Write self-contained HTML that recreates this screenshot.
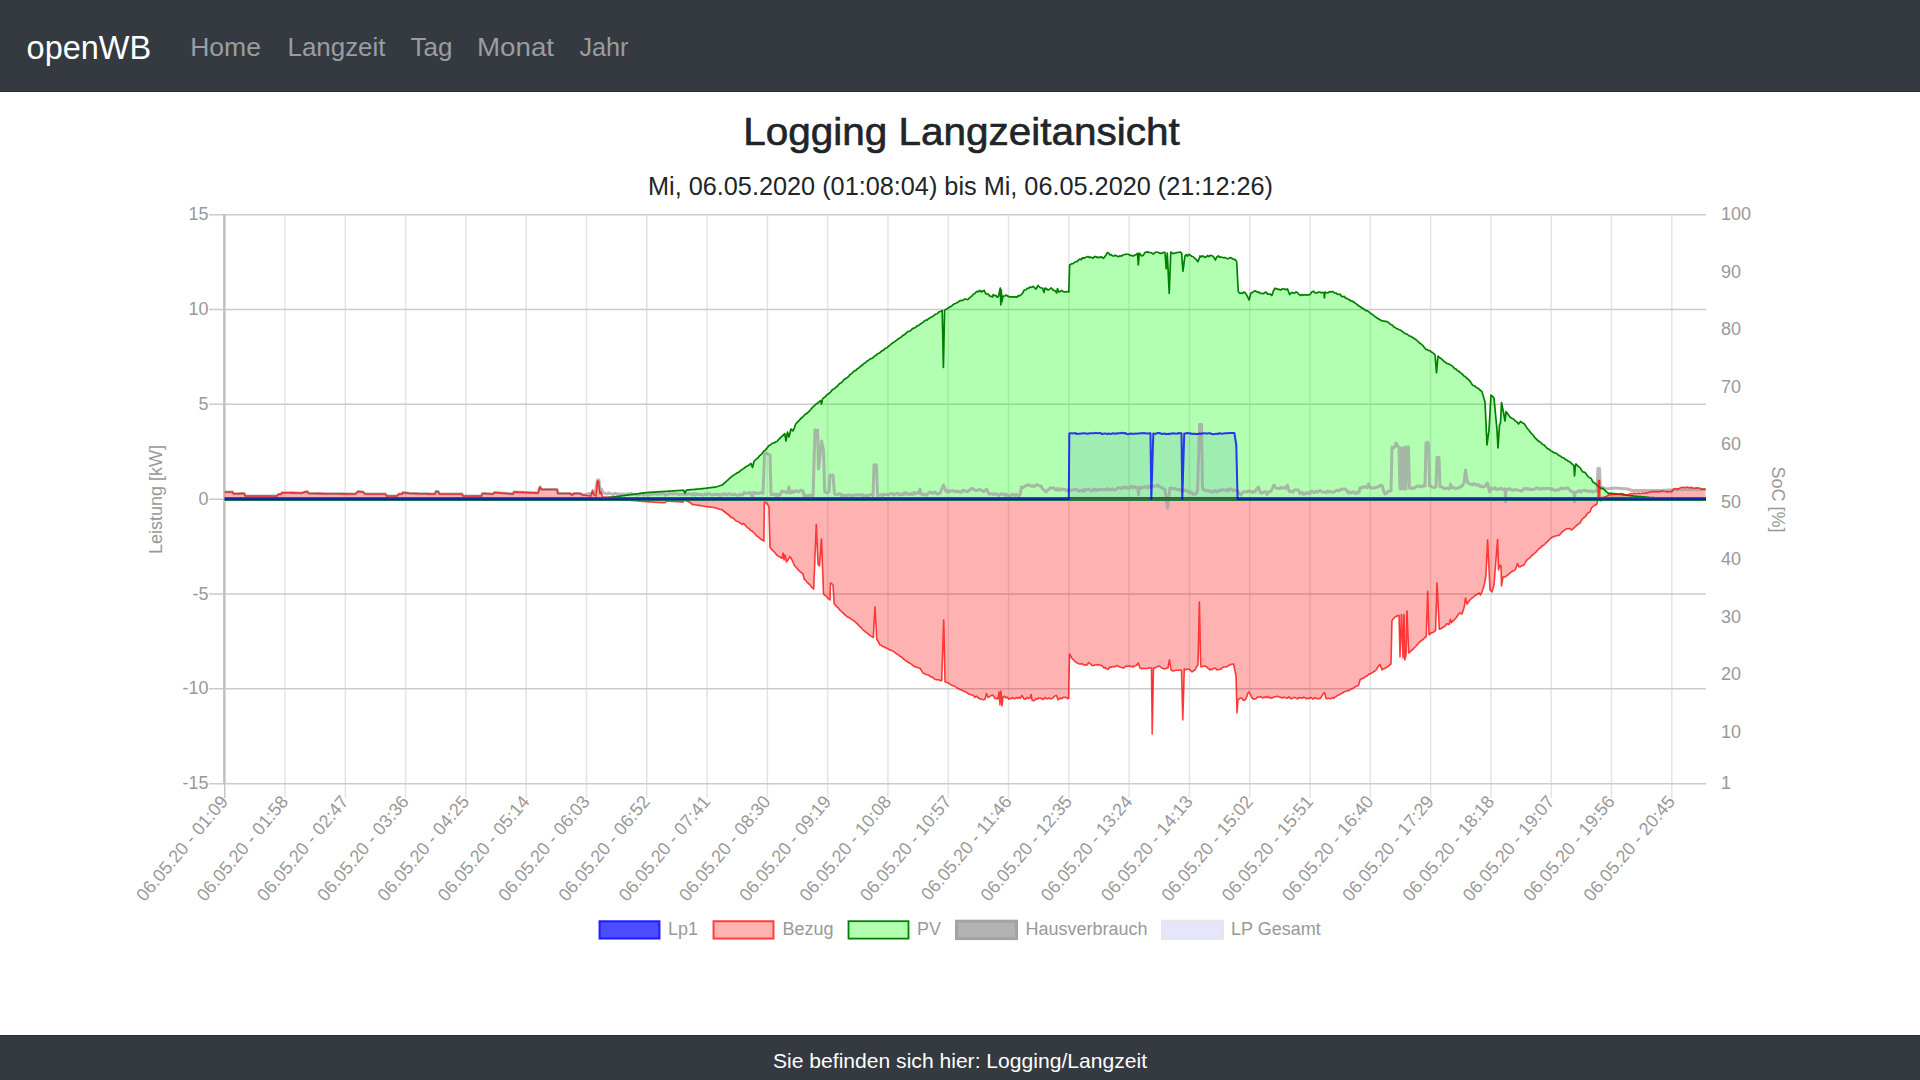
<!DOCTYPE html>
<html><head><meta charset="utf-8"><title>openWB Logging Langzeit</title>
<style>
html,body{margin:0;padding:0;background:#fff;width:1920px;height:1080px;overflow:hidden}
svg{display:block}
text{font-family:"Liberation Sans",sans-serif}
</style></head><body>
<svg width="1920" height="1080" viewBox="0 0 1920 1080">
<rect x="0" y="0" width="1920" height="1080" fill="#fff"/>
<!-- navbar -->
<rect x="0" y="0" width="1920" height="91" fill="#343a40"/>
<rect x="0" y="91" width="1920" height="1" fill="#2b2f35"/>
<text x="26.6" y="58.9" font-size="34" fill="#fff" textLength="124.5" lengthAdjust="spacingAndGlyphs">openWB</text>
<g font-size="25" fill="#9a9da0">
<text x="190.2" y="55.6" textLength="70.8" lengthAdjust="spacingAndGlyphs">Home</text>
<text x="287.5" y="55.6" textLength="98" lengthAdjust="spacingAndGlyphs">Langzeit</text>
<text x="410.5" y="55.6" textLength="42" lengthAdjust="spacingAndGlyphs">Tag</text>
<text x="477" y="55.6" textLength="77" lengthAdjust="spacingAndGlyphs">Monat</text>
<text x="579.5" y="55.6" textLength="49" lengthAdjust="spacingAndGlyphs">Jahr</text>
</g>
<!-- title -->
<text x="743.3" y="144.8" font-size="39" fill="#212529" stroke="#212529" stroke-width="0.65" textLength="436.5" lengthAdjust="spacingAndGlyphs">Logging Langzeitansicht</text>
<text x="648" y="195.2" font-size="25.5" fill="#212529" textLength="625" lengthAdjust="spacingAndGlyphs">Mi, 06.05.2020 (01:08:04) bis Mi, 06.05.2020 (21:12:26)</text>
<!-- footer -->
<rect x="0" y="1035" width="1920" height="45" fill="#343a40"/>
<rect x="0" y="1035" width="1920" height="1" fill="#2c3036"/>
<text x="773" y="1067.9" font-size="21" fill="#fff" textLength="374" lengthAdjust="spacingAndGlyphs">Sie befinden sich hier: Logging/Langzeit</text>

<g stroke="#e4e4e4" stroke-width="1.5">
<line x1="285" y1="214.7" x2="285" y2="798"/>
<line x1="345.29" y1="214.7" x2="345.29" y2="798"/>
<line x1="405.59" y1="214.7" x2="405.59" y2="798"/>
<line x1="465.88" y1="214.7" x2="465.88" y2="798"/>
<line x1="526.18" y1="214.7" x2="526.18" y2="798"/>
<line x1="586.48" y1="214.7" x2="586.48" y2="798"/>
<line x1="646.77" y1="214.7" x2="646.77" y2="798"/>
<line x1="707.07" y1="214.7" x2="707.07" y2="798"/>
<line x1="767.36" y1="214.7" x2="767.36" y2="798"/>
<line x1="827.66" y1="214.7" x2="827.66" y2="798"/>
<line x1="887.96" y1="214.7" x2="887.96" y2="798"/>
<line x1="948.25" y1="214.7" x2="948.25" y2="798"/>
<line x1="1008.55" y1="214.7" x2="1008.55" y2="798"/>
<line x1="1068.84" y1="214.7" x2="1068.84" y2="798"/>
<line x1="1129.14" y1="214.7" x2="1129.14" y2="798"/>
<line x1="1189.44" y1="214.7" x2="1189.44" y2="798"/>
<line x1="1249.73" y1="214.7" x2="1249.73" y2="798"/>
<line x1="1310.03" y1="214.7" x2="1310.03" y2="798"/>
<line x1="1370.32" y1="214.7" x2="1370.32" y2="798"/>
<line x1="1430.62" y1="214.7" x2="1430.62" y2="798"/>
<line x1="1490.92" y1="214.7" x2="1490.92" y2="798"/>
<line x1="1551.21" y1="214.7" x2="1551.21" y2="798"/>
<line x1="1611.51" y1="214.7" x2="1611.51" y2="798"/>
<line x1="1671.8" y1="214.7" x2="1671.8" y2="798"/>
</g>
<g stroke="#cbcbcb" stroke-width="1.5">
<line x1="209" y1="214.7" x2="1706" y2="214.7"/>
<line x1="209" y1="309.53" x2="1706" y2="309.53"/>
<line x1="209" y1="404.37" x2="1706" y2="404.37"/>
<line x1="209" y1="499.2" x2="1706" y2="499.2"/>
<line x1="209" y1="594.03" x2="1706" y2="594.03"/>
<line x1="209" y1="688.87" x2="1706" y2="688.87"/>
<line x1="209" y1="783.7" x2="1706" y2="783.7"/>
</g>
<line x1="224.35" y1="214" x2="224.35" y2="783.7" stroke="#c0c0c0" stroke-width="2.5"/>
<line x1="224.7" y1="783.7" x2="224.7" y2="798" stroke="#c4c4c4" stroke-width="1.5"/>
<path d="M224.7 499.2 L224.7 499.2 L225.93 499.2 L227.16 499.2 L228.39 499.2 L229.62 499.2 L230.85 499.2 L232.08 499.2 L233.31 499.2 L234.54 499.2 L235.77 499.2 L237 499.2 L238.24 499.2 L239.47 499.2 L240.7 499.2 L241.93 499.2 L243.16 499.2 L244.39 499.2 L245.62 499.2 L246.85 499.2 L248.08 499.2 L249.31 499.2 L250.54 499.2 L251.77 499.2 L253 499.2 L254.23 499.2 L255.46 499.2 L256.69 499.2 L257.92 499.2 L259.15 499.2 L260.38 499.2 L261.61 499.2 L262.84 499.2 L264.07 499.2 L265.31 499.2 L266.54 499.2 L267.77 499.2 L269 499.2 L270.23 499.2 L271.46 499.2 L272.69 499.2 L273.92 499.2 L275.15 499.2 L276.38 499.2 L277.61 499.2 L278.84 499.2 L280.07 499.2 L281.3 499.2 L282.53 499.2 L283.76 499.2 L284.99 499.2 L286.22 499.2 L287.45 499.2 L288.68 499.2 L289.91 499.2 L291.15 499.2 L292.38 499.2 L293.61 499.2 L294.84 499.2 L296.07 499.2 L297.3 499.2 L298.53 499.2 L299.76 499.2 L300.99 499.2 L302.22 499.2 L303.45 499.2 L304.68 499.2 L305.91 499.2 L307.14 499.2 L308.37 499.2 L309.6 499.2 L310.83 499.2 L312.06 499.2 L313.29 499.2 L314.52 499.2 L315.75 499.2 L316.98 499.2 L318.22 499.2 L319.45 499.2 L320.68 499.2 L321.91 499.2 L323.14 499.2 L324.37 499.2 L325.6 499.2 L326.83 499.2 L328.06 499.2 L329.29 499.2 L330.52 499.2 L331.75 499.2 L332.98 499.2 L334.21 499.2 L335.44 499.2 L336.67 499.2 L337.9 499.2 L339.13 499.2 L340.36 499.2 L341.59 499.2 L342.82 499.2 L344.06 499.2 L345.29 499.2 L346.52 499.2 L347.75 499.2 L348.98 499.2 L350.21 499.2 L351.44 499.2 L352.67 499.2 L353.9 499.2 L355.13 499.2 L356.36 499.2 L357.59 499.2 L358.82 499.2 L360.05 499.2 L361.28 499.2 L362.51 499.2 L363.74 499.2 L364.97 499.2 L366.2 499.2 L367.43 499.2 L368.66 499.2 L369.9 499.2 L371.13 499.2 L372.36 499.2 L373.59 499.2 L374.82 499.2 L376.05 499.2 L377.28 499.2 L378.51 499.2 L379.74 499.2 L380.97 499.2 L382.2 499.2 L383.43 499.2 L384.66 499.2 L385.89 499.2 L387.12 499.2 L388.35 499.2 L389.58 499.2 L390.81 499.2 L392.04 499.2 L393.27 499.2 L394.5 499.2 L395.73 499.2 L396.97 499.2 L398.2 499.2 L399.43 499.2 L400.66 499.2 L401.89 499.2 L403.12 499.2 L404.35 499.2 L405.58 499.2 L406.81 499.2 L408.04 499.2 L409.27 499.2 L410.5 499.2 L411.73 499.2 L412.96 499.2 L414.19 499.2 L415.42 499.2 L416.65 499.2 L417.88 499.2 L419.11 499.2 L420.34 499.2 L421.57 499.2 L422.81 499.2 L424.04 499.2 L425.27 499.2 L426.5 499.2 L427.73 499.2 L428.96 499.2 L430.19 499.2 L431.42 499.2 L432.65 499.2 L433.88 499.2 L435.11 499.2 L436.34 499.2 L437.57 499.2 L438.8 499.2 L440.03 499.2 L441.26 499.2 L442.49 499.2 L443.72 499.2 L444.95 499.2 L446.18 499.2 L447.41 499.2 L448.64 499.2 L449.88 499.2 L451.11 499.2 L452.34 499.2 L453.57 499.2 L454.8 499.2 L456.03 499.2 L457.26 499.2 L458.49 499.2 L459.72 499.2 L460.95 499.2 L462.18 499.2 L463.41 499.2 L464.64 499.2 L465.87 499.2 L467.1 499.2 L468.33 499.2 L469.56 499.2 L470.79 499.2 L472.02 499.2 L473.25 499.2 L474.48 499.2 L475.72 499.2 L476.95 499.2 L478.18 499.2 L479.41 499.2 L480.64 499.2 L481.87 499.2 L483.1 499.2 L484.33 499.2 L485.56 499.2 L486.79 499.2 L488.02 499.2 L489.25 499.2 L490.48 499.2 L491.71 499.2 L492.94 499.2 L494.17 499.2 L495.4 499.2 L496.63 499.2 L497.86 499.2 L499.09 499.2 L500.32 499.2 L501.55 499.2 L502.79 499.2 L504.02 499.2 L505.25 499.2 L506.48 499.2 L507.71 499.2 L508.94 499.2 L510.17 499.2 L511.4 499.2 L512.63 499.2 L513.86 499.2 L515.09 499.2 L516.32 499.2 L517.55 499.2 L518.78 499.2 L520.01 499.2 L521.24 499.2 L522.47 499.2 L523.7 499.2 L524.93 499.2 L526.16 499.2 L527.39 499.2 L528.63 499.2 L529.86 499.2 L531.09 499.2 L532.32 499.2 L533.55 499.2 L534.78 499.2 L536.01 499.2 L537.24 499.2 L538.47 499.2 L539.7 499.2 L540.93 499.2 L542.16 499.2 L543.39 499.2 L544.62 499.2 L545.85 499.2 L547.08 499.2 L548.31 499.2 L549.54 499.2 L550.77 499.2 L552 499.2 L553.23 499.2 L554.47 499.2 L555.7 499.2 L556.93 499.2 L558.16 499.2 L559.39 499.2 L560.62 499.2 L561.85 499.2 L563.08 499.2 L564.31 499.2 L565.54 499.2 L566.77 499.2 L568 499.2 L569.23 499.2 L570.46 499.2 L571.69 499.2 L572.92 499.2 L574.15 499.2 L575.38 499.2 L576.61 499.2 L577.84 499.2 L579.07 499.2 L580.3 499.2 L581.54 499.2 L582.77 499.2 L584 499.2 L585.23 499.2 L586.46 499.2 L587.69 499.2 L588.92 499.2 L590.15 499.2 L591.38 499.2 L592.61 499.2 L593.84 499.2 L595.07 499.2 L596.3 499.2 L597.53 499.2 L598.76 499.2 L599.99 499.2 L601.22 499.2 L602.45 499.2 L603.68 499.2 L604.91 499.2 L606.14 499.2 L607.38 499.2 L608.61 499.2 L609.84 499.2 L611.07 499.2 L612.3 499.2 L613.53 499.2 L614.76 499.2 L615.99 499.2 L617.22 499.2 L618.45 499.2 L619.68 499.2 L620.91 499.2 L622.14 499.2 L623.37 499.2 L624.6 499.2 L625.83 499.2 L627.06 499.2 L628.29 499.2 L629.52 499.2 L630.75 499.2 L631.98 499.2 L633.21 499.2 L634.45 499.2 L635.68 499.2 L636.91 499.2 L638.14 499.2 L639.37 499.2 L640.6 499.2 L641.83 499.2 L643.06 499.2 L644.29 499.2 L645.52 499.2 L646.75 499.2 L647.98 499.2 L649.21 499.2 L650.44 499.2 L651.67 499.2 L652.9 499.2 L654.13 499.2 L655.36 499.2 L656.59 499.2 L657.82 499.2 L659.05 499.2 L660.29 499.2 L661.52 499.2 L662.75 499.2 L663.98 499.2 L665.21 499.2 L666.44 499.2 L667.67 499.2 L668.9 499.2 L670.13 499.2 L671.36 499.2 L672.59 499.2 L673.82 499.2 L675.05 499.2 L676.28 499.2 L677.51 499.2 L678.74 499.2 L679.97 499.2 L681.2 499.2 L682.43 499.2 L683.66 499.2 L684.89 499.2 L686.12 499.2 L687.36 499.2 L688.59 499.2 L689.82 499.2 L691.05 499.2 L692.28 499.2 L693.51 499.2 L694.74 499.2 L695.97 499.2 L697.2 499.2 L698.43 499.2 L699.66 499.2 L700.89 499.2 L702.12 499.2 L703.35 499.2 L704.58 499.2 L705.81 499.2 L707.04 499.2 L708.27 499.2 L709.5 499.2 L710.73 499.2 L711.96 499.2 L713.2 499.2 L714.43 499.2 L715.66 499.2 L716.89 499.2 L718.12 499.2 L719.35 499.2 L720.58 499.2 L721.81 499.2 L723.04 499.2 L724.27 499.2 L725.5 499.2 L726.73 499.2 L727.96 499.2 L729.19 499.2 L730.42 499.2 L731.65 499.2 L732.88 499.2 L734.11 499.2 L735.34 499.2 L736.57 499.2 L737.8 499.2 L739.03 499.2 L740.27 499.2 L741.5 499.2 L742.73 499.2 L743.96 499.2 L745.19 499.2 L746.42 499.2 L747.65 499.2 L748.88 499.2 L750.11 499.2 L751.34 499.2 L752.57 499.2 L753.8 499.2 L755.03 499.2 L756.26 499.2 L757.49 499.2 L758.72 499.2 L759.95 499.2 L761.18 499.2 L762.41 499.2 L763.64 499.2 L764.87 499.2 L766.11 499.2 L767.34 499.2 L768.57 499.2 L769.8 499.2 L771.03 499.2 L772.26 499.2 L773.49 499.2 L774.72 499.2 L775.95 499.2 L777.18 499.2 L778.41 499.2 L779.64 499.2 L780.87 499.2 L782.1 499.2 L783.33 499.2 L784.56 499.2 L785.79 499.2 L787.02 499.2 L788.25 499.2 L789.48 499.2 L790.71 499.2 L791.95 499.2 L793.18 499.2 L794.41 499.2 L795.64 499.2 L796.87 499.2 L798.1 499.2 L799.33 499.2 L800.56 499.2 L801.79 499.2 L803.02 499.2 L804.25 499.2 L805.48 499.2 L806.71 499.2 L807.94 499.2 L809.17 499.2 L810.4 499.2 L811.63 499.2 L812.86 499.2 L814.09 499.2 L815.32 499.2 L816.55 499.2 L817.78 499.2 L819.02 499.2 L820.25 499.2 L821.48 499.2 L822.71 499.2 L823.94 499.2 L825.17 499.2 L826.4 499.2 L827.63 499.2 L828.86 499.2 L830.09 499.2 L831.32 499.2 L832.55 499.2 L833.78 499.2 L835.01 499.2 L836.24 499.2 L837.47 499.2 L838.7 499.2 L839.93 499.2 L841.16 499.2 L842.39 499.2 L843.62 499.2 L844.86 499.2 L846.09 499.2 L847.32 499.2 L848.55 499.2 L849.78 499.2 L851.01 499.2 L852.24 499.2 L853.47 499.2 L854.7 499.2 L855.93 499.2 L857.16 499.2 L858.39 499.2 L859.62 499.2 L860.85 499.2 L862.08 499.2 L863.31 499.2 L864.54 499.2 L865.77 499.2 L867 499.2 L868.23 499.2 L869.46 499.2 L870.69 499.2 L871.93 499.2 L873.16 499.2 L874.39 499.2 L875.62 499.2 L876.85 499.2 L878.08 499.2 L879.31 499.2 L880.54 499.2 L881.77 499.2 L883 499.2 L884.23 499.2 L885.46 499.2 L886.69 499.2 L887.92 499.2 L889.15 499.2 L890.38 499.2 L891.61 499.2 L892.84 499.2 L894.07 499.2 L895.3 499.2 L896.53 499.2 L897.77 499.2 L899 499.2 L900.23 499.2 L901.46 499.2 L902.69 499.2 L903.92 499.2 L905.15 499.2 L906.38 499.2 L907.61 499.2 L908.84 499.2 L910.07 499.2 L911.3 499.2 L912.53 499.2 L913.76 499.2 L914.99 499.2 L916.22 499.2 L917.45 499.2 L918.68 499.2 L919.91 499.2 L921.14 499.2 L922.37 499.2 L923.6 499.2 L924.84 499.2 L926.07 499.2 L927.3 499.2 L928.53 499.2 L929.76 499.2 L930.99 499.2 L932.22 499.2 L933.45 499.2 L934.68 499.2 L935.91 499.2 L937.14 499.2 L938.37 499.2 L939.6 499.2 L940.83 499.2 L942.06 499.2 L943.29 499.2 L944.52 499.2 L945.75 499.2 L946.98 499.2 L948.21 499.2 L949.44 499.2 L950.68 499.2 L951.91 499.2 L953.14 499.2 L954.37 499.2 L955.6 499.2 L956.83 499.2 L958.06 499.2 L959.29 499.2 L960.52 499.2 L961.75 499.2 L962.98 499.2 L964.21 499.2 L965.44 499.2 L966.67 499.2 L967.9 499.2 L969.13 499.2 L970.36 499.2 L971.59 499.2 L972.82 499.2 L974.05 499.2 L975.28 499.2 L976.52 499.2 L977.75 499.2 L978.98 499.2 L980.21 499.2 L981.44 499.2 L982.67 499.2 L983.9 499.2 L985.13 499.2 L986.36 499.2 L987.59 499.2 L988.82 499.2 L990.05 499.2 L991.28 499.2 L992.51 499.2 L993.74 499.2 L994.97 499.2 L996.2 499.2 L997.43 499.2 L998.66 499.2 L999.89 499.2 L1001.12 499.2 L1002.35 499.2 L1003.59 499.2 L1004.82 499.2 L1006.05 499.2 L1007.28 499.2 L1008.51 499.2 L1009.74 499.2 L1010.97 499.2 L1012.2 499.2 L1013.43 499.2 L1014.66 499.2 L1015.89 499.2 L1017.12 499.2 L1018.35 499.2 L1019.58 499.2 L1020.81 499.2 L1022.04 499.2 L1023.27 499.2 L1024.5 499.2 L1025.73 499.2 L1026.96 499.2 L1028.19 499.2 L1029.43 499.2 L1030.66 499.2 L1031.89 499.2 L1033.12 499.2 L1034.35 499.2 L1035.58 499.2 L1036.81 499.2 L1038.04 499.2 L1039.27 499.2 L1040.5 499.2 L1041.73 499.2 L1042.96 499.2 L1044.19 499.2 L1045.42 499.2 L1046.65 499.2 L1047.88 499.2 L1049.11 499.2 L1050.34 499.2 L1051.57 499.2 L1052.8 499.2 L1054.03 499.2 L1055.26 499.2 L1056.5 499.2 L1057.73 499.2 L1058.96 499.2 L1060.19 499.2 L1061.42 499.2 L1062.65 499.2 L1063.88 499.2 L1065.11 499.2 L1066.34 499.2 L1067.57 499.2 L1068.8 499.2 L1069.3 433.5 L1070.72 433.31 L1072.15 433.28 L1073.58 433.38 L1075 433 L1077 434 L1078.3 433.7 L1079.6 433.67 L1080.9 433.46 L1082.2 433.45 L1083.5 433.31 L1084.8 433.34 L1086.1 433.52 L1087.4 433.78 L1088.7 433.51 L1090 433.3 L1091.25 433.18 L1092.5 433.16 L1093.75 433.32 L1095 433.03 L1096.25 432.81 L1097.5 433.31 L1098.75 433.12 L1100 433 L1102 434 L1103.29 433.68 L1104.57 433.6 L1105.86 433.57 L1107.14 434.12 L1108.43 433.48 L1109.71 433.79 L1111 433.98 L1112.29 433.27 L1113.57 433.47 L1114.86 433.48 L1116.14 433.74 L1117.43 433.18 L1118.71 433.18 L1120 433.3 L1121.25 433.05 L1122.5 432.83 L1123.75 433.2 L1125 433 L1127 434 L1128.3 434.15 L1129.6 433.82 L1130.9 433.47 L1132.2 433.87 L1133.5 433.82 L1134.8 433.69 L1136.1 433.39 L1137.4 433.67 L1138.7 433.46 L1140 433.3 L1141.31 433.36 L1142.62 433.33 L1143.94 433.11 L1145.25 433.27 L1146.56 433.51 L1147.88 433.43 L1149.19 433.19 L1150.5 433.3 L1151.3 499.2 L1153.3 433.5 L1154.64 433.68 L1155.98 433.66 L1157.32 433.06 L1158.66 433.1 L1160 433.3 L1162 434 L1163.29 433.76 L1164.57 433.56 L1165.86 434.03 L1167.14 433.9 L1168.43 433.78 L1169.71 434.05 L1171 433.55 L1172.29 433.39 L1173.57 433.28 L1174.86 433.39 L1176.14 433.69 L1177.43 433.47 L1178.71 433.04 L1180 433.3 L1181.5 433.3 L1182.3 499.2 L1184.2 433.5 L1185.65 433.38 L1187.1 433.03 L1188.55 433.36 L1190 433.2 L1192 434 L1193.29 433.69 L1194.57 433.68 L1195.86 433.95 L1197.14 434.03 L1198.43 433.83 L1199.71 433.56 L1201 433.75 L1202.29 433.44 L1203.57 433.2 L1204.86 433.34 L1206.14 433.58 L1207.43 433.49 L1208.71 433.13 L1210 433.3 L1212 434 L1213.3 434.17 L1214.6 434.09 L1215.9 433.64 L1217.2 434.04 L1218.5 433.48 L1219.8 433.28 L1221.1 433.52 L1222.4 433.7 L1223.7 433.44 L1225 433.3 L1226.34 433.29 L1227.69 433.21 L1229.03 433.02 L1230.37 432.99 L1231.71 433.02 L1233.06 433.08 L1234.4 433 L1236.3 445 L1237.6 499.2 L1238.83 499.2 L1240.07 499.2 L1241.3 499.2 L1242.53 499.2 L1243.76 499.2 L1245 499.2 L1246.23 499.2 L1247.46 499.2 L1248.69 499.2 L1249.93 499.2 L1251.16 499.2 L1252.39 499.2 L1253.62 499.2 L1254.86 499.2 L1256.09 499.2 L1257.32 499.2 L1258.55 499.2 L1259.79 499.2 L1261.02 499.2 L1262.25 499.2 L1263.49 499.2 L1264.72 499.2 L1265.95 499.2 L1267.18 499.2 L1268.42 499.2 L1269.65 499.2 L1270.88 499.2 L1272.11 499.2 L1273.35 499.2 L1274.58 499.2 L1275.81 499.2 L1277.04 499.2 L1278.28 499.2 L1279.51 499.2 L1280.74 499.2 L1281.97 499.2 L1283.21 499.2 L1284.44 499.2 L1285.67 499.2 L1286.91 499.2 L1288.14 499.2 L1289.37 499.2 L1290.6 499.2 L1291.84 499.2 L1293.07 499.2 L1294.3 499.2 L1295.53 499.2 L1296.77 499.2 L1298 499.2 L1299.23 499.2 L1300.46 499.2 L1301.7 499.2 L1302.93 499.2 L1304.16 499.2 L1305.39 499.2 L1306.63 499.2 L1307.86 499.2 L1309.09 499.2 L1310.33 499.2 L1311.56 499.2 L1312.79 499.2 L1314.02 499.2 L1315.26 499.2 L1316.49 499.2 L1317.72 499.2 L1318.95 499.2 L1320.19 499.2 L1321.42 499.2 L1322.65 499.2 L1323.88 499.2 L1325.12 499.2 L1326.35 499.2 L1327.58 499.2 L1328.81 499.2 L1330.05 499.2 L1331.28 499.2 L1332.51 499.2 L1333.75 499.2 L1334.98 499.2 L1336.21 499.2 L1337.44 499.2 L1338.68 499.2 L1339.91 499.2 L1341.14 499.2 L1342.37 499.2 L1343.61 499.2 L1344.84 499.2 L1346.07 499.2 L1347.3 499.2 L1348.54 499.2 L1349.77 499.2 L1351 499.2 L1352.23 499.2 L1353.47 499.2 L1354.7 499.2 L1355.93 499.2 L1357.17 499.2 L1358.4 499.2 L1359.63 499.2 L1360.86 499.2 L1362.1 499.2 L1363.33 499.2 L1364.56 499.2 L1365.79 499.2 L1367.03 499.2 L1368.26 499.2 L1369.49 499.2 L1370.72 499.2 L1371.96 499.2 L1373.19 499.2 L1374.42 499.2 L1375.65 499.2 L1376.89 499.2 L1378.12 499.2 L1379.35 499.2 L1380.59 499.2 L1381.82 499.2 L1383.05 499.2 L1384.28 499.2 L1385.52 499.2 L1386.75 499.2 L1387.98 499.2 L1389.21 499.2 L1390.45 499.2 L1391.68 499.2 L1392.91 499.2 L1394.14 499.2 L1395.38 499.2 L1396.61 499.2 L1397.84 499.2 L1399.07 499.2 L1400.31 499.2 L1401.54 499.2 L1402.77 499.2 L1404.01 499.2 L1405.24 499.2 L1406.47 499.2 L1407.7 499.2 L1408.94 499.2 L1410.17 499.2 L1411.4 499.2 L1412.63 499.2 L1413.87 499.2 L1415.1 499.2 L1416.33 499.2 L1417.56 499.2 L1418.8 499.2 L1420.03 499.2 L1421.26 499.2 L1422.49 499.2 L1423.73 499.2 L1424.96 499.2 L1426.19 499.2 L1427.43 499.2 L1428.66 499.2 L1429.89 499.2 L1431.12 499.2 L1432.36 499.2 L1433.59 499.2 L1434.82 499.2 L1436.05 499.2 L1437.29 499.2 L1438.52 499.2 L1439.75 499.2 L1440.98 499.2 L1442.22 499.2 L1443.45 499.2 L1444.68 499.2 L1445.91 499.2 L1447.15 499.2 L1448.38 499.2 L1449.61 499.2 L1450.85 499.2 L1452.08 499.2 L1453.31 499.2 L1454.54 499.2 L1455.78 499.2 L1457.01 499.2 L1458.24 499.2 L1459.47 499.2 L1460.71 499.2 L1461.94 499.2 L1463.17 499.2 L1464.4 499.2 L1465.64 499.2 L1466.87 499.2 L1468.1 499.2 L1469.33 499.2 L1470.57 499.2 L1471.8 499.2 L1473.03 499.2 L1474.27 499.2 L1475.5 499.2 L1476.73 499.2 L1477.96 499.2 L1479.2 499.2 L1480.43 499.2 L1481.66 499.2 L1482.89 499.2 L1484.13 499.2 L1485.36 499.2 L1486.59 499.2 L1487.82 499.2 L1489.06 499.2 L1490.29 499.2 L1491.52 499.2 L1492.75 499.2 L1493.99 499.2 L1495.22 499.2 L1496.45 499.2 L1497.69 499.2 L1498.92 499.2 L1500.15 499.2 L1501.38 499.2 L1502.62 499.2 L1503.85 499.2 L1505.08 499.2 L1506.31 499.2 L1507.55 499.2 L1508.78 499.2 L1510.01 499.2 L1511.24 499.2 L1512.48 499.2 L1513.71 499.2 L1514.94 499.2 L1516.17 499.2 L1517.41 499.2 L1518.64 499.2 L1519.87 499.2 L1521.11 499.2 L1522.34 499.2 L1523.57 499.2 L1524.8 499.2 L1526.04 499.2 L1527.27 499.2 L1528.5 499.2 L1529.73 499.2 L1530.97 499.2 L1532.2 499.2 L1533.43 499.2 L1534.66 499.2 L1535.9 499.2 L1537.13 499.2 L1538.36 499.2 L1539.59 499.2 L1540.83 499.2 L1542.06 499.2 L1543.29 499.2 L1544.53 499.2 L1545.76 499.2 L1546.99 499.2 L1548.22 499.2 L1549.46 499.2 L1550.69 499.2 L1551.92 499.2 L1553.15 499.2 L1554.39 499.2 L1555.62 499.2 L1556.85 499.2 L1558.08 499.2 L1559.32 499.2 L1560.55 499.2 L1561.78 499.2 L1563.01 499.2 L1564.25 499.2 L1565.48 499.2 L1566.71 499.2 L1567.95 499.2 L1569.18 499.2 L1570.41 499.2 L1571.64 499.2 L1572.88 499.2 L1574.11 499.2 L1575.34 499.2 L1576.57 499.2 L1577.81 499.2 L1579.04 499.2 L1580.27 499.2 L1581.5 499.2 L1582.74 499.2 L1583.97 499.2 L1585.2 499.2 L1586.43 499.2 L1587.67 499.2 L1588.9 499.2 L1590.13 499.2 L1591.37 499.2 L1592.6 499.2 L1593.83 499.2 L1595.06 499.2 L1596.3 499.2 L1597.53 499.2 L1598.76 499.2 L1599.99 499.2 L1601.23 499.2 L1602.46 499.2 L1603.69 499.2 L1604.92 499.2 L1606.16 499.2 L1607.39 499.2 L1608.62 499.2 L1609.85 499.2 L1611.09 499.2 L1612.32 499.2 L1613.55 499.2 L1614.79 499.2 L1616.02 499.2 L1617.25 499.2 L1618.48 499.2 L1619.72 499.2 L1620.95 499.2 L1622.18 499.2 L1623.41 499.2 L1624.65 499.2 L1625.88 499.2 L1627.11 499.2 L1628.34 499.2 L1629.58 499.2 L1630.81 499.2 L1632.04 499.2 L1633.27 499.2 L1634.51 499.2 L1635.74 499.2 L1636.97 499.2 L1638.21 499.2 L1639.44 499.2 L1640.67 499.2 L1641.9 499.2 L1643.14 499.2 L1644.37 499.2 L1645.6 499.2 L1646.83 499.2 L1648.07 499.2 L1649.3 499.2 L1650.53 499.2 L1651.76 499.2 L1653 499.2 L1654.23 499.2 L1655.46 499.2 L1656.69 499.2 L1657.93 499.2 L1659.16 499.2 L1660.39 499.2 L1661.63 499.2 L1662.86 499.2 L1664.09 499.2 L1665.32 499.2 L1666.56 499.2 L1667.79 499.2 L1669.02 499.2 L1670.25 499.2 L1671.49 499.2 L1672.72 499.2 L1673.95 499.2 L1675.18 499.2 L1676.42 499.2 L1677.65 499.2 L1678.88 499.2 L1680.11 499.2 L1681.35 499.2 L1682.58 499.2 L1683.81 499.2 L1685.05 499.2 L1686.28 499.2 L1687.51 499.2 L1688.74 499.2 L1689.98 499.2 L1691.21 499.2 L1692.44 499.2 L1693.67 499.2 L1694.91 499.2 L1696.14 499.2 L1697.37 499.2 L1698.6 499.2 L1699.84 499.2 L1701.07 499.2 L1702.3 499.2 L1703.53 499.2 L1704.77 499.2 L1706 499.2 L1706 499.2 Z" fill="rgba(0,0,255,0.1)"/>
<path d="M224.7 499.2 L224.7 499.2 L225.93 499.2 L227.17 499.2 L228.4 499.2 L229.63 499.2 L230.86 499.2 L232.1 499.2 L233.33 499.2 L234.56 499.2 L235.79 499.2 L237.03 499.2 L238.26 499.2 L239.49 499.2 L240.72 499.2 L241.96 499.2 L243.19 499.2 L244.42 499.2 L245.65 499.2 L246.89 499.2 L248.12 499.2 L249.35 499.2 L250.58 499.2 L251.82 499.2 L253.05 499.2 L254.28 499.2 L255.51 499.2 L256.75 499.2 L257.98 499.2 L259.21 499.2 L260.44 499.2 L261.68 499.2 L262.91 499.2 L264.14 499.2 L265.37 499.2 L266.61 499.2 L267.84 499.2 L269.07 499.2 L270.3 499.2 L271.54 499.2 L272.77 499.2 L274 499.2 L275.23 499.2 L276.47 499.2 L277.7 499.2 L278.93 499.2 L280.16 499.2 L281.4 499.2 L282.63 499.2 L283.86 499.2 L285.09 499.2 L286.33 499.2 L287.56 499.2 L288.79 499.2 L290.03 499.2 L291.26 499.2 L292.49 499.2 L293.72 499.2 L294.96 499.2 L296.19 499.2 L297.42 499.2 L298.65 499.2 L299.89 499.2 L301.12 499.2 L302.35 499.2 L303.58 499.2 L304.82 499.2 L306.05 499.2 L307.28 499.2 L308.51 499.2 L309.75 499.2 L310.98 499.2 L312.21 499.2 L313.44 499.2 L314.68 499.2 L315.91 499.2 L317.14 499.2 L318.37 499.2 L319.61 499.2 L320.84 499.2 L322.07 499.2 L323.3 499.2 L324.54 499.2 L325.77 499.2 L327 499.2 L328.23 499.2 L329.47 499.2 L330.7 499.2 L331.93 499.2 L333.16 499.2 L334.4 499.2 L335.63 499.2 L336.86 499.2 L338.09 499.2 L339.33 499.2 L340.56 499.2 L341.79 499.2 L343.02 499.2 L344.26 499.2 L345.49 499.2 L346.72 499.2 L347.96 499.2 L349.19 499.2 L350.42 499.2 L351.65 499.2 L352.89 499.2 L354.12 499.2 L355.35 499.2 L356.58 499.2 L357.82 499.2 L359.05 499.2 L360.28 499.2 L361.51 499.2 L362.75 499.2 L363.98 499.2 L365.21 499.2 L366.44 499.2 L367.68 499.2 L368.91 499.2 L370.14 499.2 L371.37 499.2 L372.61 499.2 L373.84 499.2 L375.07 499.2 L376.3 499.2 L377.54 499.2 L378.77 499.2 L380 499.2 L381.23 499.2 L382.47 499.2 L383.7 499.2 L384.93 499.2 L386.16 499.2 L387.4 499.2 L388.63 499.2 L389.86 499.2 L391.09 499.2 L392.33 499.2 L393.56 499.2 L394.79 499.2 L396.02 499.2 L397.26 499.2 L398.49 499.2 L399.72 499.2 L400.95 499.2 L402.19 499.2 L403.42 499.2 L404.65 499.2 L405.88 499.2 L407.12 499.2 L408.35 499.2 L409.58 499.2 L410.82 499.2 L412.05 499.2 L413.28 499.2 L414.51 499.2 L415.75 499.2 L416.98 499.2 L418.21 499.2 L419.44 499.2 L420.68 499.2 L421.91 499.2 L423.14 499.2 L424.37 499.2 L425.61 499.2 L426.84 499.2 L428.07 499.2 L429.3 499.2 L430.54 499.2 L431.77 499.2 L433 499.2 L434.23 499.2 L435.47 499.2 L436.7 499.2 L437.93 499.2 L439.16 499.2 L440.4 499.2 L441.63 499.2 L442.86 499.2 L444.09 499.2 L445.33 499.2 L446.56 499.2 L447.79 499.2 L449.02 499.2 L450.26 499.2 L451.49 499.2 L452.72 499.2 L453.95 499.2 L455.19 499.2 L456.42 499.2 L457.65 499.2 L458.88 499.2 L460.12 499.2 L461.35 499.2 L462.58 499.2 L463.81 499.2 L465.05 499.2 L466.28 499.2 L467.51 499.2 L468.74 499.2 L469.98 499.2 L471.21 499.2 L472.44 499.2 L473.68 499.2 L474.91 499.2 L476.14 499.2 L477.37 499.2 L478.61 499.2 L479.84 499.2 L481.07 499.2 L482.3 499.2 L483.54 499.2 L484.77 499.2 L486 499.2 L487.23 499.2 L488.47 499.2 L489.7 499.2 L490.93 499.2 L492.16 499.2 L493.4 499.2 L494.63 499.2 L495.86 499.2 L497.09 499.2 L498.33 499.2 L499.56 499.2 L500.79 499.2 L502.02 499.2 L503.26 499.2 L504.49 499.2 L505.72 499.2 L506.95 499.2 L508.19 499.2 L509.42 499.2 L510.65 499.2 L511.88 499.2 L513.12 499.2 L514.35 499.2 L515.58 499.2 L516.81 499.2 L518.05 499.2 L519.28 499.2 L520.51 499.2 L521.74 499.2 L522.98 499.2 L524.21 499.2 L525.44 499.2 L526.67 499.2 L527.91 499.2 L529.14 499.2 L530.37 499.2 L531.61 499.2 L532.84 499.2 L534.07 499.2 L535.3 499.2 L536.54 499.2 L537.77 499.2 L539 499.2 L540.23 499.2 L541.47 499.2 L542.7 499.2 L543.93 499.2 L545.16 499.2 L546.4 499.2 L547.63 499.2 L548.86 499.2 L550.09 499.2 L551.33 499.2 L552.56 499.2 L553.79 499.2 L555.02 499.2 L556.26 499.2 L557.49 499.2 L558.72 499.2 L559.95 499.2 L561.19 499.2 L562.42 499.2 L563.65 499.2 L564.88 499.2 L566.12 499.2 L567.35 499.2 L568.58 499.2 L569.81 499.2 L571.05 499.2 L572.28 499.2 L573.51 499.2 L574.74 499.2 L575.98 499.2 L577.21 499.2 L578.44 499.2 L579.67 499.2 L580.91 499.2 L582.14 499.2 L583.37 499.2 L584.6 499.2 L585.84 499.2 L587.07 499.2 L588.3 499.2 L589.53 499.2 L590.77 499.2 L592 499.2 L593.27 499.06 L594.54 498.93 L595.81 498.79 L597.07 498.65 L598.34 498.52 L599.61 498.38 L600.88 498.24 L602.15 498.11 L603.42 497.97 L604.68 497.83 L605.95 497.69 L607.22 497.56 L608.49 497.42 L609.76 497.28 L611.03 497.15 L612.29 497.01 L613.56 496.87 L614.83 496.74 L616.1 496.6 L617.36 496.43 L618.62 496.27 L619.88 496.1 L621.13 495.93 L622.39 495.77 L623.65 495.6 L624.91 495.43 L626.17 495.27 L627.42 495.1 L628.68 494.93 L629.94 494.77 L631.2 494.6 L632.46 494.43 L633.72 494.27 L634.98 494.1 L636.23 493.93 L637.49 493.77 L638.75 493.6 L640.01 493.43 L641.27 493.27 L642.52 493.1 L643.78 492.93 L645.04 492.77 L646.3 492.6 L647.54 492.52 L648.79 492.44 L650.03 492.36 L651.27 492.28 L652.52 492.2 L653.76 492.12 L655 492.04 L656.25 491.96 L657.49 491.88 L658.73 491.8 L659.98 491.72 L661.22 491.64 L662.46 491.56 L663.71 491.48 L664.95 491.4 L666.19 491.32 L667.44 491.24 L668.68 491.16 L669.92 491.08 L671.17 491 L672.41 490.92 L673.65 490.84 L674.9 490.76 L676.14 490.68 L677.38 490.6 L678.63 490.52 L679.87 490.44 L681.11 490.36 L682.36 490.28 L683.6 490.2 L685 493 L686.5 490 L687.78 489.9 L689.06 489.8 L690.34 489.7 L691.62 489.6 L692.9 489.5 L694.18 489.4 L695.46 489.3 L696.74 489.2 L698.02 489.1 L699.3 489 L700.59 488.85 L701.88 488.69 L703.18 488.54 L704.47 488.38 L705.76 488.23 L707.05 488.08 L708.35 487.92 L709.64 487.77 L710.93 487.62 L712.22 487.46 L713.52 487.31 L714.81 487.15 L716.1 487 L717.62 486.5 L719.15 486 L720.68 485.5 L722.2 485 L723.57 483.77 L724.94 482.54 L726.31 481.31 L727.69 480.09 L729.06 478.86 L730.43 477.63 L731.8 476.4 L733.17 475.5 L734.53 474.6 L735.9 473.66 L737.27 472.85 L738.63 472.28 L740 471 L741.38 470.03 L742.75 469.13 L744.12 468.27 L745.5 466.97 L746.88 466.32 L748.25 465.49 L749.62 464.7 L751 463.5 L752.5 467.5 L754 461.5 L755.43 459.8 L756.87 458.66 L758.3 457.5 L759.64 455.63 L760.97 454.78 L762.31 453.17 L763.65 451.09 L764.99 450.43 L766.33 448.92 L767.66 447.14 L769 445.5 L770.33 444.94 L771.67 443.86 L773 443.06 L774.33 442.86 L775.67 441.77 L777 441.5 L778.3 439.9 L779.6 438.63 L780.9 437.13 L782.2 436.2 L783.5 434.86 L784.8 433.6 L786 441 L787.5 432 L789 437 L791 429 L793 431 L794.35 427.81 L795.7 424 L797.2 422.42 L798.7 420.93 L800.2 419.2 L801.49 417.99 L802.78 416.93 L804.08 415.54 L805.37 414.17 L806.66 413.61 L807.95 412.4 L809.25 411.05 L810.54 409.73 L811.83 408.16 L813.12 406.88 L814.42 405.73 L815.71 404.32 L817 403.5 L818.75 402.24 L820.5 400.5 L821.5 404 L822.5 399 L823.88 397.66 L825.25 396.81 L826.62 395.15 L828 394 L829.28 393.3 L830.57 392.09 L831.85 390.22 L833.13 389.29 L834.42 388.81 L835.7 387.31 L836.98 386.65 L838.27 385.02 L839.55 383.62 L840.83 383.01 L842.12 382.03 L843.4 380.46 L844.68 379.18 L845.97 378.29 L847.25 377.75 L848.53 376.45 L849.82 374.77 L851.1 374 L852.33 372.79 L853.57 371.67 L854.8 370.65 L856.03 370.33 L857.27 368.79 L858.5 368.15 L859.73 367.07 L860.97 365.85 L862.2 365.36 L863.43 363.83 L864.67 363.31 L865.9 362.2 L867.13 360.99 L868.37 360.41 L869.6 359.36 L870.83 358.55 L872.07 358.32 L873.3 357.31 L874.53 356 L875.77 355.66 L877 354.19 L878.23 353.49 L879.47 353.05 L880.7 351.99 L881.93 350.65 L883.17 350.58 L884.4 349.03 L885.63 348.2 L886.87 347.81 L888.1 346.7 L889.37 345.59 L890.64 344.6 L891.91 343.44 L893.19 342.5 L894.46 341.99 L895.73 340.73 L897 340.09 L898.27 338.93 L899.54 338.04 L900.81 337.54 L902.09 336.16 L903.36 335.28 L904.63 334.59 L905.9 333.3 L907.13 332.21 L908.37 331.39 L909.6 331.27 L910.83 330.39 L912.07 329.07 L913.3 328.22 L914.53 327.92 L915.77 327.3 L917 325.83 L918.23 325.71 L919.47 324.84 L920.7 323.7 L921.96 323.01 L923.23 322.06 L924.49 321 L925.76 320.16 L927.02 320.2 L928.29 318.77 L929.55 318.41 L930.82 317.22 L932.08 316.95 L933.35 315.96 L934.61 314.91 L935.88 314.02 L937.14 313.73 L938.41 312.36 L939.67 311.72 L940.94 311.24 L942.2 310.4 L943.4 367.4 L944.6 310 L946 309.52 L947.4 308.4 L948.7 307.73 L950 306.65 L951.3 306.45 L952.6 305.03 L953.9 304.09 L955.2 303.54 L956.5 302.93 L957.8 302.2 L959.11 301.32 L960.42 300.57 L961.73 300.47 L963.04 300.39 L964.36 299.02 L965.67 298.99 L966.98 299.56 L968.29 299.25 L969.6 297.8 L970.83 296.91 L972.07 295.78 L973.3 294.2 L974.55 293.74 L975.8 292.23 L977.05 291.4 L978.3 291.7 L979.77 290.41 L981.25 291.87 L982.73 291.13 L984.2 290.4 L985.45 293.23 L986.7 294.2 L988.15 293.97 L989.6 295.92 L991.05 296.34 L992.5 297.1 L993.3 294.6 L994.55 295.59 L995.8 295.29 L997.05 297.17 L998.3 296.7 L1000.3 288 L1000.8 305 L1001.3 290 L1001.8 302 L1003 296 L1005 295.8 L1006.35 295.06 L1007.7 296.12 L1009.05 296.61 L1010.4 297.05 L1011.75 296.84 L1013.1 296.88 L1014.45 297.17 L1015.8 296.7 L1017.05 297.11 L1018.3 295.55 L1019.55 295.8 L1020.8 295 L1022.5 293.3 L1024.2 290 L1025.65 289.99 L1027.1 288.33 L1028.55 288.33 L1030 287 L1031.65 287.38 L1033.3 286.3 L1034.65 287.8 L1036 289 L1038 285.5 L1040 287.5 L1041.25 288 L1042.5 288 L1044 292.5 L1045 288 L1046.5 288.76 L1048 290 L1049.65 289.17 L1051.3 288 L1052.65 289.47 L1054 290.5 L1055.35 290.91 L1056.7 293 L1057.5 288.5 L1059 292 L1060.35 291.48 L1061.7 290.4 L1063.12 291.71 L1064.54 291.8 L1065.96 291.82 L1067.38 291.46 L1068.8 292 L1069.6 265 L1071.7 263.75 L1073.02 263.55 L1074.34 262.57 L1075.66 261.62 L1076.98 261.75 L1078.3 260.4 L1079.7 259 L1081.1 259.77 L1082.5 257.76 L1083.9 258.34 L1085.3 257.53 L1086.7 257 L1087.95 256.52 L1089.2 257.52 L1090.45 257.18 L1091.7 257.48 L1092.95 258.15 L1094.2 256.89 L1095.45 256.46 L1096.7 257.5 L1097.95 257.1 L1099.2 257.86 L1100.45 256.91 L1101.7 256.84 L1102.95 258.31 L1104.2 257.5 L1105.85 255.32 L1107.5 252.5 L1108.75 253.21 L1110 254.93 L1111.25 254.63 L1112.5 255.8 L1113.75 256.13 L1115 255.2 L1116.25 255.66 L1117.5 256.41 L1118.75 256.63 L1120 255.8 L1121.45 256.16 L1122.9 254.77 L1124.35 254.77 L1125.8 254.2 L1127.2 254.23 L1128.6 254.27 L1130 255.4 L1131.25 255.29 L1132.5 255.87 L1133.75 255.8 L1135 255 L1136.25 254.57 L1137.5 253.3 L1138.3 265 L1139.3 253 L1141.7 256 L1143.35 255.15 L1145 252.5 L1146.25 252.05 L1147.5 251.84 L1148.75 252.4 L1150 252.5 L1151.65 252.9 L1153.3 254.2 L1155 252.53 L1156.7 252 L1158.35 252.48 L1160 253.3 L1161.25 253.35 L1162.5 252.89 L1163.75 252.33 L1165 252.5 L1166.2 268.8 L1167.3 253 L1169.2 293.3 L1170.8 252 L1172.2 253.01 L1173.6 253.63 L1175 253 L1176.65 252.65 L1178.3 252.5 L1180 252.05 L1181.7 253.3 L1182.9 271.3 L1185 255.8 L1186.25 254.66 L1187.5 256.15 L1188.75 254.28 L1190 255 L1191.65 256.27 L1193.3 256.7 L1194.87 258.51 L1196.43 259.65 L1198 261.7 L1200 256 L1201.25 256.96 L1202.5 255.79 L1203.75 256.4 L1205 257.5 L1206.25 256.88 L1207.5 255.5 L1208.75 256.58 L1210 255.4 L1211.33 255.57 L1212.67 256.08 L1214 257.5 L1215.4 260 L1217 256.7 L1218.33 255.93 L1219.67 257.23 L1221 256.99 L1222.33 257.49 L1223.67 257.68 L1225 257.5 L1226.34 258.27 L1227.68 258.74 L1229.02 258.35 L1230.36 257.54 L1231.7 258.3 L1232.95 259.1 L1234.2 259.36 L1235.45 259.87 L1236.7 261.7 L1238.3 291.7 L1240 293.3 L1241.25 293.04 L1242.5 293.33 L1243.75 292.06 L1245 292.5 L1246.4 294.54 L1247.8 297.19 L1249.2 300 L1250.8 293 L1252.2 292.66 L1253.6 291.57 L1255 290.8 L1256.34 291.53 L1257.68 292.31 L1259.02 292.09 L1260.36 293.38 L1261.7 293.3 L1263.35 293.71 L1265 292.5 L1266.25 292.05 L1267.5 294.12 L1268.75 294.07 L1270 294 L1271.9 295.5 L1273.3 291.21 L1274.7 288.4 L1276.27 288.64 L1277.83 289.32 L1279.4 289.4 L1280.73 290.09 L1282.07 288.89 L1283.4 289 L1284.77 289.14 L1286.13 289.76 L1287.5 289 L1289.6 294.5 L1292 292.4 L1293.25 292.94 L1294.5 293.19 L1295.75 292.18 L1297 292.2 L1298.75 294.15 L1300.5 295.5 L1302 294.58 L1303.5 295.28 L1305 294.5 L1306.25 295.14 L1307.5 294.78 L1308.75 294.94 L1310 294.5 L1312 291.7 L1313.33 291.18 L1314.67 292.6 L1316 292.81 L1317.33 292.85 L1318.67 292.02 L1320 292 L1321.33 292.91 L1322.67 292.31 L1324 293 L1324.4 298 L1325 292 L1326.5 292.82 L1328 292.71 L1329.5 291.7 L1331 292 L1332.25 291.42 L1333.5 292.38 L1334.75 292.85 L1336 293 L1337.4 294.26 L1338.8 294.41 L1340.2 294.22 L1341.6 296.5 L1343 296.6 L1344.34 296.41 L1345.68 298.23 L1347.02 298.35 L1348.36 299.17 L1349.7 300 L1351.03 301.01 L1352.35 301.18 L1353.67 301.93 L1355 303 L1356.33 303.91 L1357.67 305 L1359 306.01 L1360.33 306.77 L1361.67 307.9 L1363 308.4 L1364.4 309.27 L1365.8 310.56 L1367.2 310.67 L1368.6 311.67 L1370 312.8 L1371.5 313.95 L1373 314.86 L1374.5 316.38 L1376 317.3 L1377.33 318.26 L1378.67 318.99 L1380 319.8 L1381.33 320.58 L1382.67 320.79 L1384 321.2 L1385.33 321.3 L1386.67 321.63 L1388 322 L1389.4 323.39 L1390.8 324.52 L1392.2 324.98 L1393.6 326.64 L1395 327.4 L1396.25 328.47 L1397.5 328.72 L1398.75 329.42 L1400 330 L1401.25 330.58 L1402.5 331.73 L1403.75 332.55 L1405 333.4 L1406.25 334.14 L1407.5 334.27 L1408.75 335.77 L1410 336 L1411.38 336.81 L1412.75 337.51 L1414.12 338.67 L1415.5 339.2 L1417 340.56 L1418.5 341.79 L1420 343.27 L1421.5 344.4 L1423 345.68 L1424.5 347.77 L1426 349.4 L1427.33 349.72 L1428.67 350.61 L1430 350.6 L1431.25 352.03 L1432.5 352.49 L1433.75 353.73 L1435 354.8 L1436.5 372.8 L1438 356 L1440 358 L1441.5 358.84 L1443 360.29 L1444.5 361.81 L1446 362.7 L1447.33 363.69 L1448.67 363.95 L1450 364.6 L1451.25 365.42 L1452.5 366.3 L1453.75 367.67 L1455 368.93 L1456.25 369.2 L1457.5 370.78 L1458.75 371.08 L1460 372.5 L1461.29 373.3 L1462.57 374.4 L1463.86 375.88 L1465.14 376.63 L1466.43 377.73 L1467.71 379.04 L1469 380 L1470.5 381.84 L1472 384.4 L1473.33 385.54 L1474.67 385.93 L1476 387.21 L1477.33 387.91 L1478.67 388.79 L1480 390 L1482 391.7 L1483.5 396.88 L1485 402 L1487 445 L1489 430 L1491 395 L1492.5 396.44 L1494 398 L1497 430 L1498 448 L1499.5 425 L1500.5 423 L1501.5 402.5 L1503 410 L1505 421 L1506 411.7 L1507.33 413.35 L1508.67 415.16 L1510 417 L1511.4 418.03 L1512.8 418.69 L1514.2 419.73 L1515.6 421.12 L1517 422 L1518.5 424 L1520.5 421.5 L1522.25 422.67 L1524 423.6 L1525.5 425.65 L1527 427.97 L1528.5 429.78 L1530 431.7 L1531.4 433.62 L1532.8 434.66 L1534.2 436.72 L1535.6 438.38 L1537 439.7 L1538.33 441.11 L1539.67 441.63 L1541 442.68 L1542.33 444.28 L1543.67 444.7 L1545 446 L1546.5 447.7 L1548 448.85 L1549.5 449.42 L1551 451 L1552.4 451.49 L1553.8 452.64 L1555.2 452.94 L1556.6 453.52 L1558 454.6 L1559.4 455.78 L1560.8 456.29 L1562.2 457.5 L1563.6 457.78 L1565 459 L1566.5 459.91 L1568 461.17 L1569.5 461.57 L1571 463 L1572.5 464.23 L1574 466 L1574.5 476 L1575.5 465 L1576 464 L1577.33 465.36 L1578.67 466.77 L1580 467.6 L1581.5 470.22 L1583 472 L1584.25 472.15 L1585.5 473 L1586.75 474.81 L1588 476.6 L1589.5 477.68 L1591 478.3 L1593 482 L1594.5 483 L1596 484 L1597.25 485.47 L1598.5 486.6 L1599.75 487.17 L1601 488.3 L1603 488.3 L1604.5 489.9 L1606 491.5 L1607.25 492.4 L1608.5 493.3 L1610 493.37 L1611.5 493.43 L1613 493.5 L1614.4 493.66 L1615.8 493.82 L1617.2 493.98 L1618.6 494.14 L1620 494.3 L1621.25 494.46 L1622.5 494.62 L1623.75 494.79 L1625 494.95 L1626.25 495.11 L1627.5 495.28 L1628.75 495.44 L1630 495.6 L1631.25 495.73 L1632.5 495.85 L1633.75 495.98 L1635 496.1 L1636.25 496.23 L1637.5 496.35 L1638.75 496.48 L1640 496.6 L1641.25 496.71 L1642.5 496.83 L1643.75 496.94 L1645 497.05 L1646.25 497.16 L1647.5 497.27 L1648.75 497.39 L1650 497.5 L1651.25 497.56 L1652.5 497.62 L1653.75 497.69 L1655 497.75 L1656.25 497.81 L1657.5 497.88 L1658.75 497.94 L1660 498 L1661.25 498.06 L1662.5 498.12 L1663.75 498.19 L1665 498.25 L1666.25 498.31 L1667.5 498.38 L1668.75 498.44 L1670 498.5 L1671.25 498.59 L1672.5 498.68 L1673.75 498.76 L1675 498.85 L1676.25 498.94 L1677.5 499.02 L1678.75 499.11 L1680 499.2 L1681.24 499.2 L1682.48 499.2 L1683.71 499.2 L1684.95 499.2 L1686.19 499.2 L1687.43 499.2 L1688.67 499.2 L1689.9 499.2 L1691.14 499.2 L1692.38 499.2 L1693.62 499.2 L1694.86 499.2 L1696.1 499.2 L1697.33 499.2 L1698.57 499.2 L1699.81 499.2 L1701.05 499.2 L1702.29 499.2 L1703.52 499.2 L1704.76 499.2 L1706 499.2 L1706 499.2 Z" fill="rgba(0,255,0,0.3)"/>
<path d="M224.7 499.2 L224.7 492 L226 492 L227.3 492 L228.6 492 L229.9 492 L231.2 492 L232.5 492 L233.5 493.8 L234.81 493.76 L236.12 493.73 L237.44 493.69 L238.75 493.65 L240.06 493.61 L241.38 493.57 L242.69 493.54 L244 493.5 L245.5 496 L246.76 496 L248.02 496 L249.28 496 L250.54 496 L251.8 496 L253.06 496 L254.32 496 L255.58 496 L256.84 496 L258.1 496 L259.36 496 L260.62 496 L261.88 496 L263.14 496 L264.4 496 L265.66 496 L266.92 496 L268.18 496 L269.44 496 L270.7 496 L271.96 496 L273.22 496 L274.48 496 L275.74 496 L277 496 L278.5 494.3 L279.75 494.3 L281 494.3 L282 492.7 L283.25 492.72 L284.5 492.74 L285.75 492.76 L287 492.77 L288.25 492.79 L289.5 492.81 L290.75 492.83 L292 492.85 L293.25 492.87 L294.5 492.89 L295.75 492.91 L297 492.93 L298.25 492.94 L299.5 492.96 L300.75 492.98 L302 493 L303.25 492.62 L304.5 492.25 L305.75 491.88 L307 491.5 L309 493.5 L310.26 493.51 L311.51 493.53 L312.77 493.54 L314.03 493.55 L315.28 493.57 L316.54 493.58 L317.8 493.59 L319.05 493.61 L320.31 493.62 L321.57 493.64 L322.82 493.65 L324.08 493.66 L325.34 493.68 L326.59 493.69 L327.85 493.7 L329.11 493.72 L330.36 493.73 L331.62 493.74 L332.88 493.76 L334.14 493.77 L335.39 493.78 L336.65 493.8 L337.91 493.81 L339.16 493.82 L340.42 493.84 L341.68 493.85 L342.93 493.86 L344.19 493.88 L345.45 493.89 L346.7 493.91 L347.96 493.92 L349.22 493.93 L350.47 493.95 L351.73 493.96 L352.99 493.97 L354.24 493.99 L355.5 494 L356.75 492.75 L358 491.5 L359.25 491.62 L360.5 491.75 L361.75 491.88 L363 492 L365 494 L366.28 494 L367.56 494 L368.84 494 L370.12 494 L371.41 494 L372.69 494 L373.97 494 L375.25 494 L376.53 494 L377.81 494 L379.09 494 L380.38 494 L381.66 494 L382.94 494 L384.22 494 L385.5 494 L386.5 496 L387.81 496 L389.12 496 L390.44 496 L391.75 496 L393.06 496 L394.38 496 L395.69 496 L397 496 L399 494 L400.5 494 L402 494 L403 492.5 L404.4 492.7 L405.8 492.9 L407.2 493.1 L408.6 493.3 L410 493.5 L411.25 493.52 L412.5 493.55 L413.75 493.57 L415 493.6 L416.25 493.62 L417.5 493.65 L418.75 493.68 L420 493.7 L421.25 493.73 L422.5 493.75 L423.75 493.77 L425 493.8 L426.25 493.82 L427.5 493.85 L428.75 493.88 L430 493.9 L431.25 493.93 L432.5 493.95 L433.75 493.98 L435 494 L436 491.5 L438 491.5 L439.5 494 L440.75 494 L442 494 L443.25 494 L444.5 494 L445.75 494 L447 494 L448.25 494 L449.5 494 L450.75 494 L452 494 L453.25 494 L454.5 494 L455.75 494 L457 494 L458.25 494 L459.5 494 L460.75 494 L462 494 L463 496 L464.23 496 L465.47 496 L466.7 496 L467.93 496 L469.17 496 L470.4 496 L471.63 496 L472.87 496 L474.1 496 L475.33 496 L476.57 496 L477.8 496 L479.03 496 L480.27 496 L481.5 496 L482.5 493.5 L483.81 493.56 L485.12 493.62 L486.44 493.69 L487.75 493.75 L489.06 493.81 L490.38 493.88 L491.69 493.94 L493 494 L494.5 492.5 L495.73 492.6 L496.97 492.7 L498.2 492.8 L499.43 492.9 L500.67 493 L501.9 493.1 L503.13 493.2 L504.37 493.3 L505.6 493.4 L506.83 493.5 L508.07 493.6 L509.3 493.7 L510.53 493.8 L511.77 493.9 L513 494 L514 492 L515.26 492.05 L516.53 492.11 L517.79 492.16 L519.05 492.21 L520.32 492.26 L521.58 492.32 L522.84 492.37 L524.11 492.42 L525.37 492.47 L526.63 492.53 L527.89 492.58 L529.16 492.63 L530.42 492.68 L531.68 492.74 L532.95 492.79 L534.21 492.84 L535.47 492.89 L536.74 492.95 L538 493 L540 487 L541.5 489.5 L542.79 489.5 L544.08 489.5 L545.38 489.5 L546.67 489.5 L547.96 489.5 L549.25 489.5 L550.54 489.5 L551.83 489.5 L553.12 489.5 L554.42 489.5 L555.71 489.5 L557 489.5 L558 493.5 L559.33 493.5 L560.67 493.5 L562 493.5 L563.33 493.5 L564.67 493.5 L566 493.5 L567.33 493.5 L568.67 493.5 L570 493.5 L572 495 L574 493.5 L575.5 493.5 L577 493.5 L578.5 493.5 L580 493.5 L581.5 494.25 L583 495 L584.33 495.17 L585.67 495.33 L587 495.5 L588.33 495.67 L589.67 495.83 L591 496 L592.5 490 L594 495 L596 496 L597.5 481 L598.5 481 L600 494 L601 492 L602.5 497 L603.75 497.08 L605 497.17 L606.25 497.25 L607.5 497.33 L608.75 497.42 L610 497.5 L611.52 497.52 L613.05 497.55 L614.58 497.58 L616.1 497.6 L617.4 498.2 L618.7 498.8 L620 499.4 L621.24 499.51 L622.49 499.62 L623.73 499.73 L624.97 499.84 L626.21 499.95 L627.46 500.06 L628.7 500.17 L629.94 500.28 L631.19 500.39 L632.43 500.5 L633.67 500.6 L634.91 500.71 L636.16 500.82 L637.4 500.93 L638.64 501.04 L639.89 501.15 L641.13 501.26 L642.37 501.37 L643.61 501.48 L644.86 501.59 L646.1 501.7 L647.36 501.77 L648.62 501.85 L649.88 501.92 L651.14 501.99 L652.4 502.07 L653.66 502.14 L654.92 502.21 L656.18 502.29 L657.44 502.36 L658.7 502.43 L659.96 502.51 L661.22 502.58 L662.48 502.65 L663.74 502.73 L665 502.8 L666.7 501.1 L667.98 501.17 L669.25 501.24 L670.53 501.31 L671.81 501.38 L673.08 501.45 L674.36 501.52 L675.64 501.58 L676.92 501.65 L678.19 501.72 L679.47 501.79 L680.75 501.86 L682.02 501.93 L683.3 502 L684.1 500 L685.58 500.6 L687.05 501.2 L688.52 501.8 L690 502.4 L692.2 504.4 L693.5 504.6 L694.8 504.8 L696.1 505 L697.4 505.2 L698.7 505.4 L700 505.6 L701.34 505.82 L702.68 506.04 L704.02 506.26 L705.36 506.48 L706.7 506.7 L707.98 506.85 L709.27 507 L710.55 507.15 L711.83 507.3 L713.12 507.45 L714.4 507.6 L715.7 508 L717 508.4 L718.3 508.8 L719.6 509.2 L720.9 509.6 L722.2 510 L723.48 511 L724.76 512 L726.04 513 L727.32 514 L728.6 515 L729.88 516 L731.16 517.37 L732.44 517.71 L733.72 518.62 L735 520 L736.44 521.28 L737.88 521.51 L739.32 522.34 L740.76 523.64 L742.2 524.4 L743.3 523.3 L744.8 524.68 L746.3 526.61 L747.8 527.8 L749.17 528.69 L750.55 530.37 L751.92 530.96 L753.3 532.2 L754.8 533.78 L756.3 535.55 L757.8 536.7 L759.32 537.95 L760.85 539.24 L762.38 540.17 L763.9 541.1 L764.4 502.2 L766.1 502.8 L767.5 504.39 L768.9 506.7 L770 547.2 L771.34 549.07 L772.68 550.39 L774.02 551.73 L775.36 553.19 L776.7 555 L778.08 556.1 L779.45 556.72 L780.83 557.83 L782.2 558.3 L783 553 L784 560 L785 555 L786.5 562 L788.25 559.57 L790 556.7 L792 560 L794.2 565 L795.65 567.04 L797.1 568.4 L798.55 570.18 L800 571.7 L801.5 572.94 L803 574 L804.2 579.2 L805.57 580.37 L806.93 582.3 L808.3 583.3 L809.65 584.57 L811 586.37 L812.35 587.94 L813.7 589 L816.3 524.5 L818 564 L819.5 566 L821.5 539 L823.5 594 L824.8 595.32 L826.1 596.11 L827.4 597.86 L828.7 598.93 L830 600 L830.5 583 L831.75 583.75 L833 585 L834.2 604.2 L835.55 605.19 L836.9 606.93 L838.25 607.88 L839.6 609.94 L840.95 610.96 L842.3 612.31 L843.65 613.58 L845 615 L846.25 615.97 L847.5 617.01 L848.75 617.36 L850 618.25 L851.25 619.25 L852.5 619.86 L853.75 620.94 L855 621.7 L856.25 622.98 L857.5 624.15 L858.75 625.59 L860 626.72 L861.25 627.62 L862.5 629.6 L863.75 630.33 L865 631.7 L866.38 632.61 L867.77 633.56 L869.15 634.94 L870.53 635.93 L871.92 636.54 L873.3 637.5 L875 607 L876.7 639 L878.35 641.92 L880 645 L881.25 645.3 L882.5 646.57 L883.75 646.61 L885 647.54 L886.25 648 L887.5 648.61 L888.75 649.26 L890 650 L891.25 650.38 L892.5 650.88 L893.75 651.9 L895 652.5 L896.25 653.67 L897.5 654.49 L898.75 655.07 L900 656.4 L901.25 656.83 L902.5 658.05 L903.75 659.32 L905 660 L906.25 661.17 L907.5 661.64 L908.75 662.79 L910 663.35 L911.25 664.21 L912.5 665.09 L913.75 666.26 L915 666.7 L916.25 667.29 L917.5 667.48 L918.75 668.08 L920 668.3 L921.65 670.91 L923.3 673.3 L924.55 673.61 L925.8 674.38 L927.05 674.83 L928.3 675 L929.64 675.93 L930.98 677.03 L932.32 677.13 L933.66 678.36 L935 679.2 L936.34 679.63 L937.68 679.71 L939.02 679.9 L940.36 680.63 L941.7 680.8 L943.7 620 L945 681.7 L946.25 682.27 L947.5 682.77 L948.75 683.21 L950 684.2 L951.25 685.24 L952.5 685.41 L953.75 685.88 L955 686.62 L956.25 687.32 L957.5 688.47 L958.75 688.58 L960 689.5 L961.25 689.91 L962.5 690.35 L963.75 691.24 L965 691.62 L966.25 692.31 L967.5 693.21 L968.75 693.95 L970 694.2 L971.25 695.07 L972.5 695.03 L973.75 695.9 L975 697.37 L976.25 696.17 L977.5 697.15 L978.75 698.38 L980 699 L981.25 698.82 L982.5 699.7 L983.75 699.7 L985 699.3 L986.5 693.5 L988 697.5 L989.25 696.9 L990.5 695.9 L991.75 695.33 L993 695.4 L995 698.7 L996.5 698.34 L998 699 L999 692 L1000 705 L1001 691 L1002 706 L1003 697 L1004.4 696.34 L1005.8 697.96 L1007.2 697.15 L1008.6 699.06 L1010 698.5 L1011.25 698.82 L1012.5 697.52 L1013.75 698.5 L1015 698.73 L1016.25 697.49 L1017.5 698.47 L1018.75 697.47 L1020 698.5 L1022 695.5 L1024 699 L1025.5 699.34 L1027 697.41 L1028.5 698.54 L1030 698 L1031 694.5 L1032 700 L1033.33 700.82 L1034.67 700.26 L1036 698.66 L1037.33 699.08 L1038.67 697.96 L1040 698.5 L1041.25 698.18 L1042.5 699.35 L1043.75 699.27 L1045 697.52 L1046.25 698.36 L1047.5 698.96 L1048.75 697.96 L1050 698.7 L1051.3 698.73 L1052.6 698.28 L1053.9 696.89 L1055.2 695.84 L1056.5 695.5 L1058 700 L1060 698 L1061.24 698.77 L1062.49 698.03 L1063.73 697.31 L1064.97 697.51 L1066.21 697.25 L1067.46 698.75 L1068.7 698 L1069.5 654 L1071.7 658 L1073.35 659.76 L1075 661.5 L1076.25 662.36 L1077.5 663.13 L1078.75 663.94 L1080 664 L1081.4 663.83 L1082.8 664.29 L1084.2 665.05 L1085.6 665.11 L1087 665 L1088.7 662.5 L1090.35 663.86 L1092 665.5 L1093.33 665.6 L1094.67 664.97 L1096 664.84 L1097.33 664.63 L1098.67 664.94 L1100 665 L1101.33 665.45 L1102.67 666.55 L1104 667.86 L1105.33 667.65 L1106.67 668.9 L1108 669.6 L1110 667 L1111.33 667.27 L1112.67 666.78 L1114 666.53 L1115.33 666.65 L1116.67 665.59 L1118 666 L1119.5 667.04 L1121 667.22 L1122.5 667.87 L1124 668 L1126 666 L1127.33 666.56 L1128.67 665.85 L1130 666.5 L1131.5 666.23 L1133 667 L1134.33 665.95 L1135.67 665.67 L1137 665 L1138.3 663 L1140 668 L1141.25 668.65 L1142.5 668.74 L1143.75 668.27 L1145 668.5 L1146.25 668.52 L1147.5 668.54 L1148.75 667.92 L1150 668 L1151.5 668 L1152.2 734 L1153.5 668 L1155 667.9 L1156.5 667.2 L1158 666 L1160 666.5 L1161.5 667.77 L1163 668.5 L1164.25 668.86 L1165.5 668.61 L1166.75 668.31 L1168 668 L1169.5 660 L1171 670 L1173 671 L1175 670.5 L1176.3 670.29 L1177.6 670.24 L1178.9 670.19 L1180.2 669.97 L1181.5 670.5 L1182.8 720 L1184.3 669 L1185.72 669.76 L1187.15 669.26 L1188.58 669.18 L1190 670 L1192 672 L1193.5 670.78 L1195 670 L1196.5 667.02 L1198 665 L1199.4 602 L1200.5 660 L1201 667 L1202.33 666.6 L1203.67 666.13 L1205 666 L1206.25 666.61 L1207.5 667.97 L1208.75 668.9 L1210 670 L1211.25 669.32 L1212.5 669.38 L1213.75 668.27 L1215 668 L1217 670 L1218.33 669.55 L1219.67 669.45 L1221 669.05 L1222.33 667.85 L1223.67 666.95 L1225 667 L1226.42 667.04 L1227.83 666.02 L1229.25 665.16 L1230.67 664.55 L1232.08 664.19 L1233.5 664 L1234.75 669.77 L1236 676 L1237 713 L1238 700 L1239.33 698.74 L1240.67 698.07 L1242 698.6 L1243.5 700.39 L1245 700 L1246.33 698.04 L1247.67 693.82 L1249 692 L1250.5 694.96 L1252 698 L1253.5 699.16 L1255 699 L1256.25 698.51 L1257.5 697.05 L1258.75 697.15 L1260 697 L1261.25 696.8 L1262.5 698.04 L1263.75 697.37 L1265 697.16 L1266.25 697.6 L1267.5 696.38 L1268.75 697.85 L1270 697.5 L1271.25 698.17 L1272.5 697.85 L1273.75 697.16 L1275 696.98 L1276.25 696.36 L1277.5 696.51 L1278.75 696.65 L1280 697.4 L1281.25 697.37 L1282.5 698.16 L1283.75 697 L1285 697.64 L1286.25 698.07 L1287.5 698.13 L1288.75 696.87 L1290 698 L1291.25 698.93 L1292.5 698.19 L1293.75 697.57 L1295 697.43 L1296.25 698.42 L1297.5 698.95 L1298.75 697.64 L1300 698 L1301.25 697.78 L1302.5 698.13 L1303.75 697.28 L1305 697.79 L1306.25 698.92 L1307.5 698.12 L1308.75 698.71 L1310 698 L1311.25 697.54 L1312.5 698.94 L1313.75 698.81 L1315 697.65 L1316.25 698.38 L1317.5 698.78 L1318.75 698.6 L1320 698.5 L1321.5 696.76 L1323 693.99 L1324.5 692.6 L1326 698.5 L1327.33 698.62 L1328.67 698.18 L1330 698.5 L1331.25 698.78 L1332.5 697.47 L1333.75 698.43 L1335 697 L1336.25 696.44 L1337.5 695.53 L1338.75 695.06 L1340 694.5 L1341.25 693.45 L1342.5 693.19 L1343.75 691.89 L1345 691.5 L1346.25 691.21 L1347.5 690.6 L1348.75 690.6 L1350 690 L1351.25 688.95 L1352.5 688.64 L1353.75 687.92 L1355 687 L1356.75 686.09 L1358.5 685.6 L1360 680 L1361.4 678.9 L1362.8 678.3 L1364.2 677.72 L1365.6 676.61 L1367 676 L1368.5 674.61 L1370 674 L1371.25 673.2 L1372.5 672.75 L1373.75 671.48 L1375 671 L1376.25 669.73 L1377.5 667.76 L1378.75 665.85 L1380 664.5 L1382 670 L1383.3 668.94 L1384.6 668.42 L1385.9 667.76 L1387.2 666.78 L1388.5 666.3 L1389.75 664.82 L1391 664 L1392 620.5 L1393.5 618.75 L1395 617 L1396.33 616.27 L1397.67 615.89 L1399 615.4 L1400 657 L1401.5 614.6 L1403 657.8 L1404 614.5 L1404.7 660 L1406 655 L1407 611 L1408.6 653 L1410.6 651.5 L1411.83 650.23 L1413.07 649.19 L1414.3 647.8 L1415.65 646.46 L1417 645 L1418.57 643.25 L1420.13 641.68 L1421.7 640.4 L1423.23 639.45 L1424.77 637.57 L1426.3 636.7 L1427.7 591.3 L1429 634.8 L1430.32 633.66 L1431.64 632.78 L1432.96 632.54 L1434.28 631.47 L1435.6 630.6 L1437 583 L1439.3 629.3 L1440.67 628.94 L1442.05 628 L1443.42 627.07 L1444.8 626.5 L1446.7 623.7 L1449 624.6 L1450.4 619.5 L1451.3 622.8 L1452.87 621.14 L1454.43 619.79 L1456 618 L1457.8 615.28 L1459.6 613 L1462 614 L1463.25 610.24 L1464.5 606 L1465.5 598 L1467 604 L1468.33 602.26 L1469.67 600.3 L1471 599 L1472.25 597.87 L1473.5 597.05 L1474.75 595.72 L1476 595 L1477.5 594.32 L1479 593 L1480.5 595 L1482 592 L1483.25 588.34 L1484.5 584 L1486 575 L1487.6 540 L1490 590 L1492 592 L1494 585 L1497.6 539.6 L1498.5 570 L1500 565 L1501 566 L1501.5 586 L1503 577 L1505 577 L1506.25 576.01 L1507.5 575.32 L1508.75 574.15 L1510 573 L1511.38 572.16 L1512.75 570.98 L1514.12 570.74 L1515.5 569.5 L1517.5 563.5 L1519 567 L1520.25 566.84 L1521.5 565.96 L1522.75 565.41 L1524 565 L1525.5 562.16 L1527 560 L1528.33 558.93 L1529.67 557.95 L1531 556.41 L1532.33 555.16 L1533.67 554.26 L1535 553 L1536.25 551.98 L1537.5 550.24 L1538.75 549.08 L1540 548 L1541.25 547.11 L1542.5 545.63 L1543.75 545.25 L1545 544 L1546.5 542.35 L1548 541.27 L1549.5 539.46 L1551 538 L1552.25 537.23 L1553.5 536.62 L1554.75 536.19 L1556 536 L1557.5 535.56 L1559 535.5 L1560.5 533.96 L1562 532 L1563.33 531.24 L1564.67 530.1 L1566 529 L1567.33 528.68 L1568.67 528.8 L1570 528.5 L1571.5 530 L1573.25 528.69 L1575 527 L1576.25 525.89 L1577.5 524.67 L1578.75 523.98 L1580 523 L1581.25 520.78 L1582.5 519 L1583.75 517.75 L1585 517 L1586.5 514.91 L1588 513 L1590 512 L1591.5 508 L1593 506.5 L1594.33 505.33 L1595.67 505.15 L1597 504 L1598 499 L1598.5 480.5 L1599.5 480.5 L1600 500 L1601 501 L1602.5 497.7 L1603.75 497.09 L1605 497 L1606.5 496.48 L1608 495 L1609.25 495.03 L1610.5 493.91 L1611.75 494.73 L1613 494 L1614.4 494.39 L1615.8 494.07 L1617.2 494.52 L1618.6 494.05 L1620 494.1 L1621.33 493.61 L1622.67 493.85 L1624 494.12 L1625.33 494.86 L1626.67 494.91 L1628 494.6 L1630 494 L1631.25 493.48 L1632.5 493.69 L1633.75 493.35 L1635 493.42 L1636.25 493.51 L1637.5 493.52 L1638.75 493.14 L1640 493.5 L1641.25 493.54 L1642.5 492.89 L1643.75 493.52 L1645 492.88 L1646.25 492.67 L1647.5 492.92 L1648.75 492.26 L1650 492.3 L1651.25 491.86 L1652.5 491.55 L1653.75 491.6 L1655 491.7 L1656.25 491.36 L1657.5 491.93 L1658.75 491.45 L1660 491.85 L1661.25 491.31 L1662.5 491.03 L1663.75 491.29 L1665 491.5 L1666.3 491.47 L1667.6 492.19 L1668.9 491.44 L1670.2 491.55 L1671.5 492 L1673 489.5 L1674.4 488.79 L1675.8 488.6 L1677.2 489.15 L1678.6 488.82 L1680 488 L1681.25 487.52 L1682.5 487.16 L1683.75 487.53 L1685 487.4 L1686.25 487.55 L1687.5 487.03 L1688.75 487.45 L1690 487.92 L1691.25 487.05 L1692.5 487.96 L1693.75 487.97 L1695 488.14 L1696.25 487.83 L1697.5 487.86 L1698.75 487.97 L1700 488 L1702 489.6 L1703.75 489.01 L1705.5 489.3 L1705.5 499.2 Z" fill="rgba(255,0,0,0.3)"/>
<path d="M224.7 492 L226 492 L227.3 492 L228.6 492 L229.9 492 L231.2 492 L232.5 492 L233.5 493.8 L234.81 493.76 L236.12 493.73 L237.44 493.69 L238.75 493.65 L240.06 493.61 L241.38 493.57 L242.69 493.54 L244 493.5 L245.5 496 L246.76 496 L248.02 496 L249.28 496 L250.54 496 L251.8 496 L253.06 496 L254.32 496 L255.58 496 L256.84 496 L258.1 496 L259.36 496 L260.62 496 L261.88 496 L263.14 496 L264.4 496 L265.66 496 L266.92 496 L268.18 496 L269.44 496 L270.7 496 L271.96 496 L273.22 496 L274.48 496 L275.74 496 L277 496 L278.5 494.3 L279.75 494.3 L281 494.3 L282 492.7 L283.25 492.72 L284.5 492.74 L285.75 492.76 L287 492.77 L288.25 492.79 L289.5 492.81 L290.75 492.83 L292 492.85 L293.25 492.87 L294.5 492.89 L295.75 492.91 L297 492.93 L298.25 492.94 L299.5 492.96 L300.75 492.98 L302 493 L303.25 492.62 L304.5 492.25 L305.75 491.88 L307 491.5 L309 493.5 L310.26 493.51 L311.51 493.53 L312.77 493.54 L314.03 493.55 L315.28 493.57 L316.54 493.58 L317.8 493.59 L319.05 493.61 L320.31 493.62 L321.57 493.64 L322.82 493.65 L324.08 493.66 L325.34 493.68 L326.59 493.69 L327.85 493.7 L329.11 493.72 L330.36 493.73 L331.62 493.74 L332.88 493.76 L334.14 493.77 L335.39 493.78 L336.65 493.8 L337.91 493.81 L339.16 493.82 L340.42 493.84 L341.68 493.85 L342.93 493.86 L344.19 493.88 L345.45 493.89 L346.7 493.91 L347.96 493.92 L349.22 493.93 L350.47 493.95 L351.73 493.96 L352.99 493.97 L354.24 493.99 L355.5 494 L356.75 492.75 L358 491.5 L359.25 491.62 L360.5 491.75 L361.75 491.88 L363 492 L365 494 L366.28 494 L367.56 494 L368.84 494 L370.12 494 L371.41 494 L372.69 494 L373.97 494 L375.25 494 L376.53 494 L377.81 494 L379.09 494 L380.38 494 L381.66 494 L382.94 494 L384.22 494 L385.5 494 L386.5 496 L387.81 496 L389.12 496 L390.44 496 L391.75 496 L393.06 496 L394.38 496 L395.69 496 L397 496 L399 494 L400.5 494 L402 494 L403 492.5 L404.4 492.7 L405.8 492.9 L407.2 493.1 L408.6 493.3 L410 493.5 L411.25 493.52 L412.5 493.55 L413.75 493.57 L415 493.6 L416.25 493.62 L417.5 493.65 L418.75 493.68 L420 493.7 L421.25 493.73 L422.5 493.75 L423.75 493.77 L425 493.8 L426.25 493.82 L427.5 493.85 L428.75 493.88 L430 493.9 L431.25 493.93 L432.5 493.95 L433.75 493.98 L435 494 L436 491.5 L438 491.5 L439.5 494 L440.75 494 L442 494 L443.25 494 L444.5 494 L445.75 494 L447 494 L448.25 494 L449.5 494 L450.75 494 L452 494 L453.25 494 L454.5 494 L455.75 494 L457 494 L458.25 494 L459.5 494 L460.75 494 L462 494 L463 496 L464.23 496 L465.47 496 L466.7 496 L467.93 496 L469.17 496 L470.4 496 L471.63 496 L472.87 496 L474.1 496 L475.33 496 L476.57 496 L477.8 496 L479.03 496 L480.27 496 L481.5 496 L482.5 493.5 L483.81 493.56 L485.12 493.62 L486.44 493.69 L487.75 493.75 L489.06 493.81 L490.38 493.88 L491.69 493.94 L493 494 L494.5 492.5 L495.73 492.6 L496.97 492.7 L498.2 492.8 L499.43 492.9 L500.67 493 L501.9 493.1 L503.13 493.2 L504.37 493.3 L505.6 493.4 L506.83 493.5 L508.07 493.6 L509.3 493.7 L510.53 493.8 L511.77 493.9 L513 494 L514 492 L515.26 492.05 L516.53 492.11 L517.79 492.16 L519.05 492.21 L520.32 492.26 L521.58 492.32 L522.84 492.37 L524.11 492.42 L525.37 492.47 L526.63 492.53 L527.89 492.58 L529.16 492.63 L530.42 492.68 L531.68 492.74 L532.95 492.79 L534.21 492.84 L535.47 492.89 L536.74 492.95 L538 493 L540 487 L541.5 489.5 L542.79 489.5 L544.08 489.5 L545.38 489.5 L546.67 489.5 L547.96 489.5 L549.25 489.5 L550.54 489.5 L551.83 489.5 L553.12 489.5 L554.42 489.5 L555.71 489.5 L557 489.5 L558 493.5 L559.33 493.5 L560.67 493.5 L562 493.5 L563.33 493.5 L564.67 493.5 L566 493.5 L567.33 493.5 L568.67 493.5 L570 493.5 L572 495 L574 493.5 L575.5 493.5 L577 493.5 L578.5 493.5 L580 493.5 L581.5 494.25 L583 495 L584.4 494.7 L585.8 494.4 L587.2 494.1 L588.6 493.8 L590 493.5 L591.25 493.43 L592.5 493.35 L593.75 493.27 L595 493.2 L596.25 486.6 L597.5 480 L599 480 L600 492 L601.5 489 L603 493 L604.4 493.23 L605.8 493.44 L607.2 493.87 L608.6 493 L610 493.5 L611.25 493.84 L612.5 494.33 L613.75 494.42 L615 493.19 L616.25 494.09 L617.5 494.09 L618.75 493.94 L620 494 L621.25 494.86 L622.5 494.09 L623.75 493.96 L625 494.88 L626.25 494.35 L627.5 493.77 L628.75 493.8 L630 494.16 L631.25 493.38 L632.5 494.4 L633.75 494.65 L635 494.12 L636.25 494.89 L637.5 495.06 L638.75 494.41 L640 494.66 L641.25 493.67 L642.5 493.58 L643.75 495.26 L645 494.03 L646.25 493.92 L647.5 495.17 L648.75 494.93 L650 494.5 L651.25 493.81 L652.5 494.15 L653.75 494 L655 494.04 L656.25 493.55 L657.5 494.47 L658.75 494.06 L660 494.21 L661.25 493.82 L662.5 493.67 L663.75 493.52 L665 495.02 L666.25 494.78 L667.5 494.43 L668.75 493.64 L670 493.67 L671.25 493.6 L672.5 493.94 L673.75 493.47 L675 493.85 L676.25 493.7 L677.5 493.67 L678.75 494.49 L680 494.2 L681.25 494.14 L682.5 494.19 L683.75 494 L685 494.35 L686.25 494.81 L687.5 493.97 L688.75 493.56 L690 494.32 L691.25 494.15 L692.5 494.89 L693.75 493.71 L695 495.1 L696.25 493.57 L697.5 494.54 L698.75 494.38 L700 494.5 L701.25 494.17 L702.5 495.2 L703.75 494.86 L705 493.89 L706.25 494.49 L707.5 494.7 L708.75 493.66 L710 493.76 L711.25 494.68 L712.5 494.91 L713.75 494.43 L715 494.36 L716.25 494.51 L717.5 494.07 L718.75 495.18 L720 494.5 L721.28 495.33 L722.56 494.47 L723.83 493.64 L725.11 494.31 L726.39 495.05 L727.67 494.18 L728.94 493.79 L730.22 493.93 L731.5 494.88 L732.78 494.72 L734.06 494.12 L735.33 494.72 L736.61 494.97 L737.89 495.34 L739.17 495.1 L740.44 494.38 L741.72 495.06 L743 494.5 L744 492.5 L745.5 493.27 L747 493.16 L748.5 492.95 L750 492.5 L751.3 494.91 L752.6 497 L753.5 492.5 L754.86 492.66 L756.21 493.42 L757.57 493.15 L758.93 493.47 L760.29 492.72 L761.64 492.62 L763 493.5 L764.5 454 L765.75 453.34 L767 453.5 L768.5 454.4 L770 455 L771 494.5 L772.29 494.7 L773.57 494.1 L774.86 494.15 L776.14 495.6 L777.43 494.09 L778.71 495.7 L780 495 L782 491 L783.5 491.74 L785 491.63 L786.5 492.64 L788 492 L788.8 487 L790 493 L791.25 492.82 L792.5 491.11 L793.75 492.29 L795 491 L796.33 490.84 L797.67 491.75 L799 491.56 L800.33 490.35 L801.67 490.17 L803 491 L804 495.5 L805.29 494.71 L806.57 496.15 L807.86 496.24 L809.14 495.3 L810.43 495.16 L811.71 495.69 L813 496 L815 430 L816.25 430.54 L817.5 430 L818.5 469 L821.5 441 L823.5 450 L824.7 492 L826.13 492.43 L827.57 492.66 L829 492 L830 475 L831.5 475.84 L833 475 L834.5 494 L835.92 494.63 L837.33 494.94 L838.75 493.63 L840.17 493.78 L841.58 495.49 L843 495 L845 495.5 L846.27 495.71 L847.55 495.19 L848.82 494.83 L850.09 495.2 L851.36 495.21 L852.64 495.49 L853.91 495.41 L855.18 494.96 L856.45 494.75 L857.73 494.97 L859 494.83 L860.27 494.78 L861.55 495.35 L862.82 494.83 L864.09 496.04 L865.36 495.58 L866.64 495.43 L867.91 495.75 L869.18 495.02 L870.45 494.64 L871.73 494.74 L873 495.5 L874 465 L875.25 464.71 L876.5 465 L877.5 495.5 L878.75 495.14 L880 494.84 L881.25 494.83 L882.5 495.67 L883.75 494.08 L885 494.77 L886.25 494.54 L887.5 494.25 L888.75 494.94 L890 493.93 L891.25 493.5 L892.5 493.6 L893.75 494.97 L895 494 L896.26 493.7 L897.53 493.26 L898.79 494.77 L900.05 494.26 L901.32 495.01 L902.58 493.42 L903.84 494.59 L905.11 492.64 L906.37 493.11 L907.63 494.47 L908.89 493.75 L910.16 494.41 L911.42 493.37 L912.68 494.57 L913.95 492.55 L915.21 493.89 L916.47 492.77 L917.74 492.77 L919 493.5 L920 489 L921 493.5 L922.5 494.76 L924 493.93 L925.5 495.18 L927 494.7 L928.5 492.81 L930 492 L931.25 492.74 L932.5 493.34 L933.75 492.8 L935 491.99 L936.25 493.23 L937.5 494.1 L938.75 493.89 L940 493.3 L941.75 489.01 L943.5 485 L944.75 488 L946 491.5 L947.27 490.54 L948.55 492.26 L949.82 490.78 L951.09 490.98 L952.36 490.56 L953.64 490.93 L954.91 491.53 L956.18 491.81 L957.45 491.1 L958.73 491.77 L960 492 L961.25 492.4 L962.5 490.49 L963.75 490.34 L965 491.06 L966.25 491.76 L967.5 491.54 L968.75 490.42 L970 490 L971.75 488.48 L973.5 489 L974.78 490.1 L976.06 490.57 L977.33 490.5 L978.61 489.74 L979.89 489.54 L981.17 490.22 L982.44 490.89 L983.72 491.57 L985 490.5 L986.5 489 L987.75 491.48 L989 494 L990.38 494.08 L991.75 493.65 L993.12 494.29 L994.5 494.36 L995.88 493.77 L997.25 494.27 L998.62 495.48 L1000 494.5 L1001.25 493.87 L1002.5 493.95 L1003.75 494.11 L1005 495.52 L1006.25 494.16 L1007.5 495.5 L1008.75 495.79 L1010 495.69 L1011.25 495.54 L1012.5 494.05 L1013.75 494.72 L1015 495.68 L1016.25 494.27 L1017.5 495.19 L1018.75 495.9 L1020 495 L1021.5 487 L1023.25 487.58 L1025 486 L1026.25 485.63 L1027.5 485.05 L1028.75 484.83 L1030 485.54 L1031.25 486.12 L1032.5 485.45 L1033.75 486.81 L1035 486 L1037 484.5 L1038.33 485.38 L1039.67 485.8 L1041 486 L1042.5 488.82 L1044 490 L1046 492 L1047.33 490.24 L1048.67 489.71 L1050 488 L1051.25 487.88 L1052.5 487.97 L1053.75 487.79 L1055 489.72 L1056.25 490.25 L1057.5 488.33 L1058.75 490.29 L1060 490 L1061.25 488.78 L1062.5 489.54 L1063.75 489.17 L1065 489.5 L1066.25 490.76 L1067.5 489.83 L1068.75 490.28 L1070 490.5 L1071.25 490.14 L1072.5 489.89 L1073.75 489.86 L1075 489.41 L1076.25 489.29 L1077.5 490.63 L1078.75 491.1 L1080 490.5 L1081.25 490.86 L1082.5 489.77 L1083.75 491.53 L1085 489.2 L1086.25 490.02 L1087.5 489.71 L1088.75 489.26 L1090 490 L1091.25 491.15 L1092.5 490.54 L1093.75 489.08 L1095 489.19 L1096.25 490.77 L1097.5 489.68 L1098.75 489.5 L1100 490 L1101.25 489.43 L1102.5 489.44 L1103.75 490.03 L1105 489.28 L1106.25 489.92 L1107.5 488.53 L1108.75 489.65 L1110 489.5 L1111.25 489.56 L1112.5 488.75 L1113.75 489.97 L1115 489.97 L1116.25 489.14 L1117.5 488.38 L1118.75 487.61 L1120 488.3 L1121.25 488.51 L1122.5 487.57 L1123.75 487.16 L1125 487.98 L1126.25 487.05 L1127.5 488.05 L1128.75 488.25 L1130 487.5 L1131.33 486.28 L1132.67 487.83 L1134 486.73 L1135.33 487.09 L1136.67 488.06 L1138 487.5 L1138.5 495 L1139 487.5 L1140.5 488.54 L1142 486.78 L1143.5 487.76 L1145 487 L1146.25 486.62 L1147.5 488.1 L1148.75 486.18 L1150 487 L1151.25 487.16 L1152.5 485.46 L1153.75 486.4 L1155 486 L1156.5 486.11 L1158 485 L1159.33 486.87 L1160.67 487.33 L1162 487.5 L1163.5 488.87 L1165 490 L1167.5 508 L1170 488 L1171.25 487.88 L1172.5 488.57 L1173.75 488.75 L1175 488.5 L1176.25 489.03 L1177.5 489.54 L1178.75 489.86 L1180 489.5 L1181.25 490.72 L1182.5 490.05 L1183.75 490.82 L1185 490 L1186.25 491.1 L1187.5 490.7 L1188.75 492.26 L1190 492 L1191.25 492.16 L1192.5 493.82 L1193.75 494.45 L1195 494 L1196.25 493.49 L1197.5 491 L1199.6 424.5 L1201.5 424.5 L1202.5 488 L1203.75 490.03 L1205 490 L1206.25 490.86 L1207.5 490.75 L1208.75 490.6 L1210 491.5 L1211.25 491.79 L1212.5 492.36 L1213.75 490.96 L1215 490.53 L1216.25 491.83 L1217.5 492.15 L1218.75 490.33 L1220 491 L1221.25 489.85 L1222.5 489.53 L1223.75 490.38 L1225 490 L1226.25 490.83 L1227.5 489.37 L1228.75 490.73 L1230 488.87 L1231.25 489.27 L1232.5 490.12 L1233.75 490.65 L1235 490 L1236.5 490.73 L1238 491.5 L1239.5 493.72 L1241 495 L1243 492 L1244.33 491.65 L1245.67 491.69 L1247 492.05 L1248.33 490.75 L1249.67 491.25 L1251 491.63 L1252.33 492.39 L1253.67 491.24 L1255 492 L1256.75 488.86 L1258.5 487 L1260 492 L1261.5 493.23 L1263 492.38 L1264.5 491.78 L1266 492 L1267 494.5 L1268 492 L1270 492 L1271.33 490.37 L1272.67 487.87 L1274 485 L1275.5 487.44 L1277 488.3 L1278.29 488.45 L1279.57 488.59 L1280.86 487.29 L1282.14 488.12 L1283.43 488.03 L1284.71 487.69 L1286 488.3 L1287.5 485 L1289 491 L1290 491.8 L1291.42 491.16 L1292.83 492.17 L1294.25 490.21 L1295.67 489.63 L1297.08 489.89 L1298.5 490 L1300 493.6 L1301.25 492.77 L1302.5 492.41 L1303.75 494.63 L1305 493.72 L1306.25 492.42 L1307.5 493.68 L1308.75 492.79 L1310 493.6 L1311 491.4 L1312.27 491.36 L1313.53 492.51 L1314.8 492.6 L1316.07 491.14 L1317.33 492.11 L1318.6 491.38 L1319.87 490.35 L1321.13 491.15 L1322.4 492.18 L1323.67 492.09 L1324.93 491.96 L1326.2 492.62 L1327.47 491.1 L1328.73 491.91 L1330 491.4 L1331.25 492.06 L1332.5 492.19 L1333.75 491.91 L1335 491.78 L1336.25 490.31 L1337.5 490.27 L1338.75 490.73 L1340 490.3 L1341.25 489.02 L1342.5 489.17 L1343.75 489 L1345 489 L1346.5 490.11 L1348 492.7 L1349.38 491.89 L1350.75 493.03 L1352.12 492.15 L1353.5 491.49 L1354.88 493.32 L1356.25 493.67 L1357.62 491.83 L1359 492.5 L1360 487.7 L1361.4 488.16 L1362.8 486.66 L1364.2 487 L1365.6 486.86 L1367 487.7 L1368.5 484 L1370 487.7 L1371.25 488 L1372.5 487.75 L1373.75 488.35 L1375 487.5 L1376.25 487.35 L1377.5 487.04 L1378.75 486.79 L1380 485.3 L1382 485.3 L1384 492 L1385 494 L1386.25 493.46 L1387.5 491.81 L1388.75 490.91 L1390 491 L1391 491 L1392 447 L1393.5 447.89 L1395 447 L1396 443 L1397.5 445.8 L1399 447 L1400 489 L1401 448 L1402 489 L1403 448 L1404 489 L1405 447 L1406 489 L1407 447 L1408.5 447 L1409.5 488 L1410.75 488.26 L1412 488 L1413.33 488.48 L1414.67 487.89 L1416 486.83 L1417.33 486.1 L1418.67 486.2 L1420 486 L1421.25 486.75 L1422.5 486.7 L1423.75 485.11 L1425 486 L1426 443 L1427.25 442.11 L1428.5 443 L1429.5 486 L1430.8 486.1 L1432.1 487.14 L1433.4 487.28 L1434.7 487.41 L1436 487 L1437 457.5 L1439 457.5 L1440 487 L1441.25 486.6 L1442.5 487.22 L1443.75 488.62 L1445 488.5 L1446.25 488.27 L1447.5 487.92 L1448.75 488.95 L1450 488 L1450.5 484 L1451 488 L1452.5 487.13 L1454 487.98 L1455.5 488.69 L1457 488 L1458.25 487.94 L1459.5 487.85 L1460.75 486.31 L1462 486.3 L1464 483 L1465.5 470 L1467 480 L1468 483 L1470 484 L1471.33 484.19 L1472.67 485.03 L1474 483.59 L1475.33 484.21 L1476.67 485.3 L1478 484.5 L1480 486.5 L1481.25 485.89 L1482.5 486.99 L1483.75 486.95 L1485 486.5 L1486.25 484.31 L1487.5 483 L1489.5 492 L1491 488 L1492.29 489.02 L1493.57 488.79 L1494.86 487.77 L1496.14 489.45 L1497.43 489.4 L1498.71 488.82 L1500 489 L1501.25 488.15 L1502.5 489.51 L1503.75 489.15 L1505 489 L1505.5 502 L1506 489 L1507 489 L1508.3 489.59 L1509.6 488.54 L1510.9 489.41 L1512.2 490.15 L1513.5 490.16 L1514.8 489.31 L1516.1 489.74 L1517.4 490.12 L1518.7 490.28 L1520 490.5 L1521.25 491.01 L1522.5 490.53 L1523.75 488.48 L1525 489 L1526.25 489.16 L1527.5 488.25 L1528.75 489.51 L1530 488.85 L1531.25 489.47 L1532.5 489.44 L1533.75 489.43 L1535 488.6 L1536.25 488 L1537.5 487.82 L1538.75 489.09 L1540 488.54 L1541.25 489.1 L1542.5 488.5 L1543.75 488.45 L1545 489.02 L1546.25 488.36 L1547.5 488.59 L1548.75 488.42 L1550 488.6 L1551.25 489.39 L1552.5 488.78 L1553.75 489.96 L1555 490.5 L1556.4 490.14 L1557.8 489.83 L1559.2 489.72 L1560.6 488.27 L1562 488 L1563.5 488.83 L1565 488.37 L1566.5 487.79 L1568 488 L1569.5 489.86 L1571 491.5 L1572.5 491.75 L1574 492.5 L1574.5 502 L1575 492.5 L1577 491.5 L1578.3 491.72 L1579.6 490.54 L1580.9 492.07 L1582.2 491.05 L1583.5 490.37 L1584.8 490.45 L1586.1 490.86 L1587.4 490.67 L1588.7 491.66 L1590 491 L1591.4 490.88 L1592.8 491.95 L1594.2 490.9 L1595.6 491.12 L1597 491.5 L1598 468.5 L1599.5 468.5 L1600.5 489 L1601.75 488.25 L1603 487.5 L1604.5 488.25 L1606 489 L1607.29 488.86 L1608.57 488.71 L1609.86 488.57 L1611.14 488.43 L1612.43 488.29 L1613.71 488.14 L1615 488 L1616.3 488.1 L1617.6 488.2 L1618.9 488.3 L1620.2 488.4 L1621.5 488.5 L1622.8 488.6 L1624.1 488.7 L1625.4 488.8 L1626.7 488.9 L1628 489 L1629.33 489.5 L1630.67 490 L1632 490.5 L1633.3 490.5 L1634.6 490.5 L1635.9 490.5 L1637.2 490.5 L1638.5 490.5 L1639.8 490.5 L1641.1 490.5 L1642.4 490.5 L1643.7 490.5 L1645 490.5 L1646.25 490.5 L1647.5 490.5 L1648.75 490.5 L1650 490.5 L1651.25 490.5 L1652.5 490.5 L1653.75 490.5 L1655 490.5 L1656.25 490.5 L1657.5 490.5 L1658.75 490.5 L1660 490.5 L1661.25 490.44 L1662.5 490.38 L1663.75 490.31 L1665 490.25 L1666.25 490.19 L1667.5 490.12 L1668.75 490.06 L1670 490 L1671.25 489.97 L1672.5 489.94 L1673.75 489.91 L1675 489.88 L1676.25 489.84 L1677.5 489.81 L1678.75 489.78 L1680 489.75 L1681.25 489.72 L1682.5 489.69 L1683.75 489.66 L1685 489.62 L1686.25 489.59 L1687.5 489.56 L1688.75 489.53 L1690 489.5 L1691.23 489.5 L1692.46 489.5 L1693.69 489.5 L1694.92 489.5 L1696.15 489.5 L1697.38 489.5 L1698.62 489.5 L1699.85 489.5 L1701.08 489.5 L1702.31 489.5 L1703.54 489.5 L1704.77 489.5 L1706 489.5" fill="none" stroke="rgba(160,160,160,0.75)" stroke-width="3" stroke-linejoin="round"/>
<path d="M224.7 499.2 L225.93 499.2 L227.17 499.2 L228.4 499.2 L229.63 499.2 L230.86 499.2 L232.1 499.2 L233.33 499.2 L234.56 499.2 L235.79 499.2 L237.03 499.2 L238.26 499.2 L239.49 499.2 L240.72 499.2 L241.96 499.2 L243.19 499.2 L244.42 499.2 L245.65 499.2 L246.89 499.2 L248.12 499.2 L249.35 499.2 L250.58 499.2 L251.82 499.2 L253.05 499.2 L254.28 499.2 L255.51 499.2 L256.75 499.2 L257.98 499.2 L259.21 499.2 L260.44 499.2 L261.68 499.2 L262.91 499.2 L264.14 499.2 L265.37 499.2 L266.61 499.2 L267.84 499.2 L269.07 499.2 L270.3 499.2 L271.54 499.2 L272.77 499.2 L274 499.2 L275.23 499.2 L276.47 499.2 L277.7 499.2 L278.93 499.2 L280.16 499.2 L281.4 499.2 L282.63 499.2 L283.86 499.2 L285.09 499.2 L286.33 499.2 L287.56 499.2 L288.79 499.2 L290.03 499.2 L291.26 499.2 L292.49 499.2 L293.72 499.2 L294.96 499.2 L296.19 499.2 L297.42 499.2 L298.65 499.2 L299.89 499.2 L301.12 499.2 L302.35 499.2 L303.58 499.2 L304.82 499.2 L306.05 499.2 L307.28 499.2 L308.51 499.2 L309.75 499.2 L310.98 499.2 L312.21 499.2 L313.44 499.2 L314.68 499.2 L315.91 499.2 L317.14 499.2 L318.37 499.2 L319.61 499.2 L320.84 499.2 L322.07 499.2 L323.3 499.2 L324.54 499.2 L325.77 499.2 L327 499.2 L328.23 499.2 L329.47 499.2 L330.7 499.2 L331.93 499.2 L333.16 499.2 L334.4 499.2 L335.63 499.2 L336.86 499.2 L338.09 499.2 L339.33 499.2 L340.56 499.2 L341.79 499.2 L343.02 499.2 L344.26 499.2 L345.49 499.2 L346.72 499.2 L347.96 499.2 L349.19 499.2 L350.42 499.2 L351.65 499.2 L352.89 499.2 L354.12 499.2 L355.35 499.2 L356.58 499.2 L357.82 499.2 L359.05 499.2 L360.28 499.2 L361.51 499.2 L362.75 499.2 L363.98 499.2 L365.21 499.2 L366.44 499.2 L367.68 499.2 L368.91 499.2 L370.14 499.2 L371.37 499.2 L372.61 499.2 L373.84 499.2 L375.07 499.2 L376.3 499.2 L377.54 499.2 L378.77 499.2 L380 499.2 L381.23 499.2 L382.47 499.2 L383.7 499.2 L384.93 499.2 L386.16 499.2 L387.4 499.2 L388.63 499.2 L389.86 499.2 L391.09 499.2 L392.33 499.2 L393.56 499.2 L394.79 499.2 L396.02 499.2 L397.26 499.2 L398.49 499.2 L399.72 499.2 L400.95 499.2 L402.19 499.2 L403.42 499.2 L404.65 499.2 L405.88 499.2 L407.12 499.2 L408.35 499.2 L409.58 499.2 L410.82 499.2 L412.05 499.2 L413.28 499.2 L414.51 499.2 L415.75 499.2 L416.98 499.2 L418.21 499.2 L419.44 499.2 L420.68 499.2 L421.91 499.2 L423.14 499.2 L424.37 499.2 L425.61 499.2 L426.84 499.2 L428.07 499.2 L429.3 499.2 L430.54 499.2 L431.77 499.2 L433 499.2 L434.23 499.2 L435.47 499.2 L436.7 499.2 L437.93 499.2 L439.16 499.2 L440.4 499.2 L441.63 499.2 L442.86 499.2 L444.09 499.2 L445.33 499.2 L446.56 499.2 L447.79 499.2 L449.02 499.2 L450.26 499.2 L451.49 499.2 L452.72 499.2 L453.95 499.2 L455.19 499.2 L456.42 499.2 L457.65 499.2 L458.88 499.2 L460.12 499.2 L461.35 499.2 L462.58 499.2 L463.81 499.2 L465.05 499.2 L466.28 499.2 L467.51 499.2 L468.74 499.2 L469.98 499.2 L471.21 499.2 L472.44 499.2 L473.68 499.2 L474.91 499.2 L476.14 499.2 L477.37 499.2 L478.61 499.2 L479.84 499.2 L481.07 499.2 L482.3 499.2 L483.54 499.2 L484.77 499.2 L486 499.2 L487.23 499.2 L488.47 499.2 L489.7 499.2 L490.93 499.2 L492.16 499.2 L493.4 499.2 L494.63 499.2 L495.86 499.2 L497.09 499.2 L498.33 499.2 L499.56 499.2 L500.79 499.2 L502.02 499.2 L503.26 499.2 L504.49 499.2 L505.72 499.2 L506.95 499.2 L508.19 499.2 L509.42 499.2 L510.65 499.2 L511.88 499.2 L513.12 499.2 L514.35 499.2 L515.58 499.2 L516.81 499.2 L518.05 499.2 L519.28 499.2 L520.51 499.2 L521.74 499.2 L522.98 499.2 L524.21 499.2 L525.44 499.2 L526.67 499.2 L527.91 499.2 L529.14 499.2 L530.37 499.2 L531.61 499.2 L532.84 499.2 L534.07 499.2 L535.3 499.2 L536.54 499.2 L537.77 499.2 L539 499.2 L540.23 499.2 L541.47 499.2 L542.7 499.2 L543.93 499.2 L545.16 499.2 L546.4 499.2 L547.63 499.2 L548.86 499.2 L550.09 499.2 L551.33 499.2 L552.56 499.2 L553.79 499.2 L555.02 499.2 L556.26 499.2 L557.49 499.2 L558.72 499.2 L559.95 499.2 L561.19 499.2 L562.42 499.2 L563.65 499.2 L564.88 499.2 L566.12 499.2 L567.35 499.2 L568.58 499.2 L569.81 499.2 L571.05 499.2 L572.28 499.2 L573.51 499.2 L574.74 499.2 L575.98 499.2 L577.21 499.2 L578.44 499.2 L579.67 499.2 L580.91 499.2 L582.14 499.2 L583.37 499.2 L584.6 499.2 L585.84 499.2 L587.07 499.2 L588.3 499.2 L589.53 499.2 L590.77 499.2 L592 499.2 L593.27 499.06 L594.54 498.93 L595.81 498.79 L597.07 498.65 L598.34 498.52 L599.61 498.38 L600.88 498.24 L602.15 498.11 L603.42 497.97 L604.68 497.83 L605.95 497.69 L607.22 497.56 L608.49 497.42 L609.76 497.28 L611.03 497.15 L612.29 497.01 L613.56 496.87 L614.83 496.74 L616.1 496.6 L617.36 496.43 L618.62 496.27 L619.88 496.1 L621.13 495.93 L622.39 495.77 L623.65 495.6 L624.91 495.43 L626.17 495.27 L627.42 495.1 L628.68 494.93 L629.94 494.77 L631.2 494.6 L632.46 494.43 L633.72 494.27 L634.98 494.1 L636.23 493.93 L637.49 493.77 L638.75 493.6 L640.01 493.43 L641.27 493.27 L642.52 493.1 L643.78 492.93 L645.04 492.77 L646.3 492.6 L647.54 492.52 L648.79 492.44 L650.03 492.36 L651.27 492.28 L652.52 492.2 L653.76 492.12 L655 492.04 L656.25 491.96 L657.49 491.88 L658.73 491.8 L659.98 491.72 L661.22 491.64 L662.46 491.56 L663.71 491.48 L664.95 491.4 L666.19 491.32 L667.44 491.24 L668.68 491.16 L669.92 491.08 L671.17 491 L672.41 490.92 L673.65 490.84 L674.9 490.76 L676.14 490.68 L677.38 490.6 L678.63 490.52 L679.87 490.44 L681.11 490.36 L682.36 490.28 L683.6 490.2 L685 493 L686.5 490 L687.78 489.9 L689.06 489.8 L690.34 489.7 L691.62 489.6 L692.9 489.5 L694.18 489.4 L695.46 489.3 L696.74 489.2 L698.02 489.1 L699.3 489 L700.59 488.85 L701.88 488.69 L703.18 488.54 L704.47 488.38 L705.76 488.23 L707.05 488.08 L708.35 487.92 L709.64 487.77 L710.93 487.62 L712.22 487.46 L713.52 487.31 L714.81 487.15 L716.1 487 L717.62 486.5 L719.15 486 L720.68 485.5 L722.2 485 L723.57 483.77 L724.94 482.54 L726.31 481.31 L727.69 480.09 L729.06 478.86 L730.43 477.63 L731.8 476.4 L733.17 475.5 L734.53 474.6 L735.9 473.66 L737.27 472.85 L738.63 472.28 L740 471 L741.38 470.03 L742.75 469.13 L744.12 468.27 L745.5 466.97 L746.88 466.32 L748.25 465.49 L749.62 464.7 L751 463.5 L752.5 467.5 L754 461.5 L755.43 459.8 L756.87 458.66 L758.3 457.5 L759.64 455.63 L760.97 454.78 L762.31 453.17 L763.65 451.09 L764.99 450.43 L766.33 448.92 L767.66 447.14 L769 445.5 L770.33 444.94 L771.67 443.86 L773 443.06 L774.33 442.86 L775.67 441.77 L777 441.5 L778.3 439.9 L779.6 438.63 L780.9 437.13 L782.2 436.2 L783.5 434.86 L784.8 433.6 L786 441 L787.5 432 L789 437 L791 429 L793 431 L794.35 427.81 L795.7 424 L797.2 422.42 L798.7 420.93 L800.2 419.2 L801.49 417.99 L802.78 416.93 L804.08 415.54 L805.37 414.17 L806.66 413.61 L807.95 412.4 L809.25 411.05 L810.54 409.73 L811.83 408.16 L813.12 406.88 L814.42 405.73 L815.71 404.32 L817 403.5 L818.75 402.24 L820.5 400.5 L821.5 404 L822.5 399 L823.88 397.66 L825.25 396.81 L826.62 395.15 L828 394 L829.28 393.3 L830.57 392.09 L831.85 390.22 L833.13 389.29 L834.42 388.81 L835.7 387.31 L836.98 386.65 L838.27 385.02 L839.55 383.62 L840.83 383.01 L842.12 382.03 L843.4 380.46 L844.68 379.18 L845.97 378.29 L847.25 377.75 L848.53 376.45 L849.82 374.77 L851.1 374 L852.33 372.79 L853.57 371.67 L854.8 370.65 L856.03 370.33 L857.27 368.79 L858.5 368.15 L859.73 367.07 L860.97 365.85 L862.2 365.36 L863.43 363.83 L864.67 363.31 L865.9 362.2 L867.13 360.99 L868.37 360.41 L869.6 359.36 L870.83 358.55 L872.07 358.32 L873.3 357.31 L874.53 356 L875.77 355.66 L877 354.19 L878.23 353.49 L879.47 353.05 L880.7 351.99 L881.93 350.65 L883.17 350.58 L884.4 349.03 L885.63 348.2 L886.87 347.81 L888.1 346.7 L889.37 345.59 L890.64 344.6 L891.91 343.44 L893.19 342.5 L894.46 341.99 L895.73 340.73 L897 340.09 L898.27 338.93 L899.54 338.04 L900.81 337.54 L902.09 336.16 L903.36 335.28 L904.63 334.59 L905.9 333.3 L907.13 332.21 L908.37 331.39 L909.6 331.27 L910.83 330.39 L912.07 329.07 L913.3 328.22 L914.53 327.92 L915.77 327.3 L917 325.83 L918.23 325.71 L919.47 324.84 L920.7 323.7 L921.96 323.01 L923.23 322.06 L924.49 321 L925.76 320.16 L927.02 320.2 L928.29 318.77 L929.55 318.41 L930.82 317.22 L932.08 316.95 L933.35 315.96 L934.61 314.91 L935.88 314.02 L937.14 313.73 L938.41 312.36 L939.67 311.72 L940.94 311.24 L942.2 310.4 L943.4 367.4 L944.6 310 L946 309.52 L947.4 308.4 L948.7 307.73 L950 306.65 L951.3 306.45 L952.6 305.03 L953.9 304.09 L955.2 303.54 L956.5 302.93 L957.8 302.2 L959.11 301.32 L960.42 300.57 L961.73 300.47 L963.04 300.39 L964.36 299.02 L965.67 298.99 L966.98 299.56 L968.29 299.25 L969.6 297.8 L970.83 296.91 L972.07 295.78 L973.3 294.2 L974.55 293.74 L975.8 292.23 L977.05 291.4 L978.3 291.7 L979.77 290.41 L981.25 291.87 L982.73 291.13 L984.2 290.4 L985.45 293.23 L986.7 294.2 L988.15 293.97 L989.6 295.92 L991.05 296.34 L992.5 297.1 L993.3 294.6 L994.55 295.59 L995.8 295.29 L997.05 297.17 L998.3 296.7 L1000.3 288 L1000.8 305 L1001.3 290 L1001.8 302 L1003 296 L1005 295.8 L1006.35 295.06 L1007.7 296.12 L1009.05 296.61 L1010.4 297.05 L1011.75 296.84 L1013.1 296.88 L1014.45 297.17 L1015.8 296.7 L1017.05 297.11 L1018.3 295.55 L1019.55 295.8 L1020.8 295 L1022.5 293.3 L1024.2 290 L1025.65 289.99 L1027.1 288.33 L1028.55 288.33 L1030 287 L1031.65 287.38 L1033.3 286.3 L1034.65 287.8 L1036 289 L1038 285.5 L1040 287.5 L1041.25 288 L1042.5 288 L1044 292.5 L1045 288 L1046.5 288.76 L1048 290 L1049.65 289.17 L1051.3 288 L1052.65 289.47 L1054 290.5 L1055.35 290.91 L1056.7 293 L1057.5 288.5 L1059 292 L1060.35 291.48 L1061.7 290.4 L1063.12 291.71 L1064.54 291.8 L1065.96 291.82 L1067.38 291.46 L1068.8 292 L1069.6 265 L1071.7 263.75 L1073.02 263.55 L1074.34 262.57 L1075.66 261.62 L1076.98 261.75 L1078.3 260.4 L1079.7 259 L1081.1 259.77 L1082.5 257.76 L1083.9 258.34 L1085.3 257.53 L1086.7 257 L1087.95 256.52 L1089.2 257.52 L1090.45 257.18 L1091.7 257.48 L1092.95 258.15 L1094.2 256.89 L1095.45 256.46 L1096.7 257.5 L1097.95 257.1 L1099.2 257.86 L1100.45 256.91 L1101.7 256.84 L1102.95 258.31 L1104.2 257.5 L1105.85 255.32 L1107.5 252.5 L1108.75 253.21 L1110 254.93 L1111.25 254.63 L1112.5 255.8 L1113.75 256.13 L1115 255.2 L1116.25 255.66 L1117.5 256.41 L1118.75 256.63 L1120 255.8 L1121.45 256.16 L1122.9 254.77 L1124.35 254.77 L1125.8 254.2 L1127.2 254.23 L1128.6 254.27 L1130 255.4 L1131.25 255.29 L1132.5 255.87 L1133.75 255.8 L1135 255 L1136.25 254.57 L1137.5 253.3 L1138.3 265 L1139.3 253 L1141.7 256 L1143.35 255.15 L1145 252.5 L1146.25 252.05 L1147.5 251.84 L1148.75 252.4 L1150 252.5 L1151.65 252.9 L1153.3 254.2 L1155 252.53 L1156.7 252 L1158.35 252.48 L1160 253.3 L1161.25 253.35 L1162.5 252.89 L1163.75 252.33 L1165 252.5 L1166.2 268.8 L1167.3 253 L1169.2 293.3 L1170.8 252 L1172.2 253.01 L1173.6 253.63 L1175 253 L1176.65 252.65 L1178.3 252.5 L1180 252.05 L1181.7 253.3 L1182.9 271.3 L1185 255.8 L1186.25 254.66 L1187.5 256.15 L1188.75 254.28 L1190 255 L1191.65 256.27 L1193.3 256.7 L1194.87 258.51 L1196.43 259.65 L1198 261.7 L1200 256 L1201.25 256.96 L1202.5 255.79 L1203.75 256.4 L1205 257.5 L1206.25 256.88 L1207.5 255.5 L1208.75 256.58 L1210 255.4 L1211.33 255.57 L1212.67 256.08 L1214 257.5 L1215.4 260 L1217 256.7 L1218.33 255.93 L1219.67 257.23 L1221 256.99 L1222.33 257.49 L1223.67 257.68 L1225 257.5 L1226.34 258.27 L1227.68 258.74 L1229.02 258.35 L1230.36 257.54 L1231.7 258.3 L1232.95 259.1 L1234.2 259.36 L1235.45 259.87 L1236.7 261.7 L1238.3 291.7 L1240 293.3 L1241.25 293.04 L1242.5 293.33 L1243.75 292.06 L1245 292.5 L1246.4 294.54 L1247.8 297.19 L1249.2 300 L1250.8 293 L1252.2 292.66 L1253.6 291.57 L1255 290.8 L1256.34 291.53 L1257.68 292.31 L1259.02 292.09 L1260.36 293.38 L1261.7 293.3 L1263.35 293.71 L1265 292.5 L1266.25 292.05 L1267.5 294.12 L1268.75 294.07 L1270 294 L1271.9 295.5 L1273.3 291.21 L1274.7 288.4 L1276.27 288.64 L1277.83 289.32 L1279.4 289.4 L1280.73 290.09 L1282.07 288.89 L1283.4 289 L1284.77 289.14 L1286.13 289.76 L1287.5 289 L1289.6 294.5 L1292 292.4 L1293.25 292.94 L1294.5 293.19 L1295.75 292.18 L1297 292.2 L1298.75 294.15 L1300.5 295.5 L1302 294.58 L1303.5 295.28 L1305 294.5 L1306.25 295.14 L1307.5 294.78 L1308.75 294.94 L1310 294.5 L1312 291.7 L1313.33 291.18 L1314.67 292.6 L1316 292.81 L1317.33 292.85 L1318.67 292.02 L1320 292 L1321.33 292.91 L1322.67 292.31 L1324 293 L1324.4 298 L1325 292 L1326.5 292.82 L1328 292.71 L1329.5 291.7 L1331 292 L1332.25 291.42 L1333.5 292.38 L1334.75 292.85 L1336 293 L1337.4 294.26 L1338.8 294.41 L1340.2 294.22 L1341.6 296.5 L1343 296.6 L1344.34 296.41 L1345.68 298.23 L1347.02 298.35 L1348.36 299.17 L1349.7 300 L1351.03 301.01 L1352.35 301.18 L1353.67 301.93 L1355 303 L1356.33 303.91 L1357.67 305 L1359 306.01 L1360.33 306.77 L1361.67 307.9 L1363 308.4 L1364.4 309.27 L1365.8 310.56 L1367.2 310.67 L1368.6 311.67 L1370 312.8 L1371.5 313.95 L1373 314.86 L1374.5 316.38 L1376 317.3 L1377.33 318.26 L1378.67 318.99 L1380 319.8 L1381.33 320.58 L1382.67 320.79 L1384 321.2 L1385.33 321.3 L1386.67 321.63 L1388 322 L1389.4 323.39 L1390.8 324.52 L1392.2 324.98 L1393.6 326.64 L1395 327.4 L1396.25 328.47 L1397.5 328.72 L1398.75 329.42 L1400 330 L1401.25 330.58 L1402.5 331.73 L1403.75 332.55 L1405 333.4 L1406.25 334.14 L1407.5 334.27 L1408.75 335.77 L1410 336 L1411.38 336.81 L1412.75 337.51 L1414.12 338.67 L1415.5 339.2 L1417 340.56 L1418.5 341.79 L1420 343.27 L1421.5 344.4 L1423 345.68 L1424.5 347.77 L1426 349.4 L1427.33 349.72 L1428.67 350.61 L1430 350.6 L1431.25 352.03 L1432.5 352.49 L1433.75 353.73 L1435 354.8 L1436.5 372.8 L1438 356 L1440 358 L1441.5 358.84 L1443 360.29 L1444.5 361.81 L1446 362.7 L1447.33 363.69 L1448.67 363.95 L1450 364.6 L1451.25 365.42 L1452.5 366.3 L1453.75 367.67 L1455 368.93 L1456.25 369.2 L1457.5 370.78 L1458.75 371.08 L1460 372.5 L1461.29 373.3 L1462.57 374.4 L1463.86 375.88 L1465.14 376.63 L1466.43 377.73 L1467.71 379.04 L1469 380 L1470.5 381.84 L1472 384.4 L1473.33 385.54 L1474.67 385.93 L1476 387.21 L1477.33 387.91 L1478.67 388.79 L1480 390 L1482 391.7 L1483.5 396.88 L1485 402 L1487 445 L1489 430 L1491 395 L1492.5 396.44 L1494 398 L1497 430 L1498 448 L1499.5 425 L1500.5 423 L1501.5 402.5 L1503 410 L1505 421 L1506 411.7 L1507.33 413.35 L1508.67 415.16 L1510 417 L1511.4 418.03 L1512.8 418.69 L1514.2 419.73 L1515.6 421.12 L1517 422 L1518.5 424 L1520.5 421.5 L1522.25 422.67 L1524 423.6 L1525.5 425.65 L1527 427.97 L1528.5 429.78 L1530 431.7 L1531.4 433.62 L1532.8 434.66 L1534.2 436.72 L1535.6 438.38 L1537 439.7 L1538.33 441.11 L1539.67 441.63 L1541 442.68 L1542.33 444.28 L1543.67 444.7 L1545 446 L1546.5 447.7 L1548 448.85 L1549.5 449.42 L1551 451 L1552.4 451.49 L1553.8 452.64 L1555.2 452.94 L1556.6 453.52 L1558 454.6 L1559.4 455.78 L1560.8 456.29 L1562.2 457.5 L1563.6 457.78 L1565 459 L1566.5 459.91 L1568 461.17 L1569.5 461.57 L1571 463 L1572.5 464.23 L1574 466 L1574.5 476 L1575.5 465 L1576 464 L1577.33 465.36 L1578.67 466.77 L1580 467.6 L1581.5 470.22 L1583 472 L1584.25 472.15 L1585.5 473 L1586.75 474.81 L1588 476.6 L1589.5 477.68 L1591 478.3 L1593 482 L1594.5 483 L1596 484 L1597.25 485.47 L1598.5 486.6 L1599.75 487.17 L1601 488.3 L1603 488.3 L1604.5 489.9 L1606 491.5 L1607.25 492.4 L1608.5 493.3 L1610 493.37 L1611.5 493.43 L1613 493.5 L1614.4 493.66 L1615.8 493.82 L1617.2 493.98 L1618.6 494.14 L1620 494.3 L1621.25 494.46 L1622.5 494.62 L1623.75 494.79 L1625 494.95 L1626.25 495.11 L1627.5 495.28 L1628.75 495.44 L1630 495.6 L1631.25 495.73 L1632.5 495.85 L1633.75 495.98 L1635 496.1 L1636.25 496.23 L1637.5 496.35 L1638.75 496.48 L1640 496.6 L1641.25 496.71 L1642.5 496.83 L1643.75 496.94 L1645 497.05 L1646.25 497.16 L1647.5 497.27 L1648.75 497.39 L1650 497.5 L1651.25 497.56 L1652.5 497.62 L1653.75 497.69 L1655 497.75 L1656.25 497.81 L1657.5 497.88 L1658.75 497.94 L1660 498 L1661.25 498.06 L1662.5 498.12 L1663.75 498.19 L1665 498.25 L1666.25 498.31 L1667.5 498.38 L1668.75 498.44 L1670 498.5 L1671.25 498.59 L1672.5 498.68 L1673.75 498.76 L1675 498.85 L1676.25 498.94 L1677.5 499.02 L1678.75 499.11 L1680 499.2 L1681.24 499.2 L1682.48 499.2 L1683.71 499.2 L1684.95 499.2 L1686.19 499.2 L1687.43 499.2 L1688.67 499.2 L1689.9 499.2 L1691.14 499.2 L1692.38 499.2 L1693.62 499.2 L1694.86 499.2 L1696.1 499.2 L1697.33 499.2 L1698.57 499.2 L1699.81 499.2 L1701.05 499.2 L1702.29 499.2 L1703.52 499.2 L1704.76 499.2 L1706 499.2" fill="none" stroke="#008000" stroke-width="1.7" stroke-linejoin="round"/>
<path d="M224.7 492 L226 492 L227.3 492 L228.6 492 L229.9 492 L231.2 492 L232.5 492 L233.5 493.8 L234.81 493.76 L236.12 493.73 L237.44 493.69 L238.75 493.65 L240.06 493.61 L241.38 493.57 L242.69 493.54 L244 493.5 L245.5 496 L246.76 496 L248.02 496 L249.28 496 L250.54 496 L251.8 496 L253.06 496 L254.32 496 L255.58 496 L256.84 496 L258.1 496 L259.36 496 L260.62 496 L261.88 496 L263.14 496 L264.4 496 L265.66 496 L266.92 496 L268.18 496 L269.44 496 L270.7 496 L271.96 496 L273.22 496 L274.48 496 L275.74 496 L277 496 L278.5 494.3 L279.75 494.3 L281 494.3 L282 492.7 L283.25 492.72 L284.5 492.74 L285.75 492.76 L287 492.77 L288.25 492.79 L289.5 492.81 L290.75 492.83 L292 492.85 L293.25 492.87 L294.5 492.89 L295.75 492.91 L297 492.93 L298.25 492.94 L299.5 492.96 L300.75 492.98 L302 493 L303.25 492.62 L304.5 492.25 L305.75 491.88 L307 491.5 L309 493.5 L310.26 493.51 L311.51 493.53 L312.77 493.54 L314.03 493.55 L315.28 493.57 L316.54 493.58 L317.8 493.59 L319.05 493.61 L320.31 493.62 L321.57 493.64 L322.82 493.65 L324.08 493.66 L325.34 493.68 L326.59 493.69 L327.85 493.7 L329.11 493.72 L330.36 493.73 L331.62 493.74 L332.88 493.76 L334.14 493.77 L335.39 493.78 L336.65 493.8 L337.91 493.81 L339.16 493.82 L340.42 493.84 L341.68 493.85 L342.93 493.86 L344.19 493.88 L345.45 493.89 L346.7 493.91 L347.96 493.92 L349.22 493.93 L350.47 493.95 L351.73 493.96 L352.99 493.97 L354.24 493.99 L355.5 494 L356.75 492.75 L358 491.5 L359.25 491.62 L360.5 491.75 L361.75 491.88 L363 492 L365 494 L366.28 494 L367.56 494 L368.84 494 L370.12 494 L371.41 494 L372.69 494 L373.97 494 L375.25 494 L376.53 494 L377.81 494 L379.09 494 L380.38 494 L381.66 494 L382.94 494 L384.22 494 L385.5 494 L386.5 496 L387.81 496 L389.12 496 L390.44 496 L391.75 496 L393.06 496 L394.38 496 L395.69 496 L397 496 L399 494 L400.5 494 L402 494 L403 492.5 L404.4 492.7 L405.8 492.9 L407.2 493.1 L408.6 493.3 L410 493.5 L411.25 493.52 L412.5 493.55 L413.75 493.57 L415 493.6 L416.25 493.62 L417.5 493.65 L418.75 493.68 L420 493.7 L421.25 493.73 L422.5 493.75 L423.75 493.77 L425 493.8 L426.25 493.82 L427.5 493.85 L428.75 493.88 L430 493.9 L431.25 493.93 L432.5 493.95 L433.75 493.98 L435 494 L436 491.5 L438 491.5 L439.5 494 L440.75 494 L442 494 L443.25 494 L444.5 494 L445.75 494 L447 494 L448.25 494 L449.5 494 L450.75 494 L452 494 L453.25 494 L454.5 494 L455.75 494 L457 494 L458.25 494 L459.5 494 L460.75 494 L462 494 L463 496 L464.23 496 L465.47 496 L466.7 496 L467.93 496 L469.17 496 L470.4 496 L471.63 496 L472.87 496 L474.1 496 L475.33 496 L476.57 496 L477.8 496 L479.03 496 L480.27 496 L481.5 496 L482.5 493.5 L483.81 493.56 L485.12 493.62 L486.44 493.69 L487.75 493.75 L489.06 493.81 L490.38 493.88 L491.69 493.94 L493 494 L494.5 492.5 L495.73 492.6 L496.97 492.7 L498.2 492.8 L499.43 492.9 L500.67 493 L501.9 493.1 L503.13 493.2 L504.37 493.3 L505.6 493.4 L506.83 493.5 L508.07 493.6 L509.3 493.7 L510.53 493.8 L511.77 493.9 L513 494 L514 492 L515.26 492.05 L516.53 492.11 L517.79 492.16 L519.05 492.21 L520.32 492.26 L521.58 492.32 L522.84 492.37 L524.11 492.42 L525.37 492.47 L526.63 492.53 L527.89 492.58 L529.16 492.63 L530.42 492.68 L531.68 492.74 L532.95 492.79 L534.21 492.84 L535.47 492.89 L536.74 492.95 L538 493 L540 487 L541.5 489.5 L542.79 489.5 L544.08 489.5 L545.38 489.5 L546.67 489.5 L547.96 489.5 L549.25 489.5 L550.54 489.5 L551.83 489.5 L553.12 489.5 L554.42 489.5 L555.71 489.5 L557 489.5 L558 493.5 L559.33 493.5 L560.67 493.5 L562 493.5 L563.33 493.5 L564.67 493.5 L566 493.5 L567.33 493.5 L568.67 493.5 L570 493.5 L572 495 L574 493.5 L575.5 493.5 L577 493.5 L578.5 493.5 L580 493.5 L581.5 494.25 L583 495 L584.33 495.17 L585.67 495.33 L587 495.5 L588.33 495.67 L589.67 495.83 L591 496 L592.5 490 L594 495 L596 496 L597.5 481 L598.5 481 L600 494 L601 492 L602.5 497 L603.75 497.08 L605 497.17 L606.25 497.25 L607.5 497.33 L608.75 497.42 L610 497.5 L611.52 497.52 L613.05 497.55 L614.58 497.58 L616.1 497.6 L617.4 498.2 L618.7 498.8 L620 499.4 L621.24 499.51 L622.49 499.62 L623.73 499.73 L624.97 499.84 L626.21 499.95 L627.46 500.06 L628.7 500.17 L629.94 500.28 L631.19 500.39 L632.43 500.5 L633.67 500.6 L634.91 500.71 L636.16 500.82 L637.4 500.93 L638.64 501.04 L639.89 501.15 L641.13 501.26 L642.37 501.37 L643.61 501.48 L644.86 501.59 L646.1 501.7 L647.36 501.77 L648.62 501.85 L649.88 501.92 L651.14 501.99 L652.4 502.07 L653.66 502.14 L654.92 502.21 L656.18 502.29 L657.44 502.36 L658.7 502.43 L659.96 502.51 L661.22 502.58 L662.48 502.65 L663.74 502.73 L665 502.8 L666.7 501.1 L667.98 501.17 L669.25 501.24 L670.53 501.31 L671.81 501.38 L673.08 501.45 L674.36 501.52 L675.64 501.58 L676.92 501.65 L678.19 501.72 L679.47 501.79 L680.75 501.86 L682.02 501.93 L683.3 502 L684.1 500 L685.58 500.6 L687.05 501.2 L688.52 501.8 L690 502.4 L692.2 504.4 L693.5 504.6 L694.8 504.8 L696.1 505 L697.4 505.2 L698.7 505.4 L700 505.6 L701.34 505.82 L702.68 506.04 L704.02 506.26 L705.36 506.48 L706.7 506.7 L707.98 506.85 L709.27 507 L710.55 507.15 L711.83 507.3 L713.12 507.45 L714.4 507.6 L715.7 508 L717 508.4 L718.3 508.8 L719.6 509.2 L720.9 509.6 L722.2 510 L723.48 511 L724.76 512 L726.04 513 L727.32 514 L728.6 515 L729.88 516 L731.16 517.37 L732.44 517.71 L733.72 518.62 L735 520 L736.44 521.28 L737.88 521.51 L739.32 522.34 L740.76 523.64 L742.2 524.4 L743.3 523.3 L744.8 524.68 L746.3 526.61 L747.8 527.8 L749.17 528.69 L750.55 530.37 L751.92 530.96 L753.3 532.2 L754.8 533.78 L756.3 535.55 L757.8 536.7 L759.32 537.95 L760.85 539.24 L762.38 540.17 L763.9 541.1 L764.4 502.2 L766.1 502.8 L767.5 504.39 L768.9 506.7 L770 547.2 L771.34 549.07 L772.68 550.39 L774.02 551.73 L775.36 553.19 L776.7 555 L778.08 556.1 L779.45 556.72 L780.83 557.83 L782.2 558.3 L783 553 L784 560 L785 555 L786.5 562 L788.25 559.57 L790 556.7 L792 560 L794.2 565 L795.65 567.04 L797.1 568.4 L798.55 570.18 L800 571.7 L801.5 572.94 L803 574 L804.2 579.2 L805.57 580.37 L806.93 582.3 L808.3 583.3 L809.65 584.57 L811 586.37 L812.35 587.94 L813.7 589 L816.3 524.5 L818 564 L819.5 566 L821.5 539 L823.5 594 L824.8 595.32 L826.1 596.11 L827.4 597.86 L828.7 598.93 L830 600 L830.5 583 L831.75 583.75 L833 585 L834.2 604.2 L835.55 605.19 L836.9 606.93 L838.25 607.88 L839.6 609.94 L840.95 610.96 L842.3 612.31 L843.65 613.58 L845 615 L846.25 615.97 L847.5 617.01 L848.75 617.36 L850 618.25 L851.25 619.25 L852.5 619.86 L853.75 620.94 L855 621.7 L856.25 622.98 L857.5 624.15 L858.75 625.59 L860 626.72 L861.25 627.62 L862.5 629.6 L863.75 630.33 L865 631.7 L866.38 632.61 L867.77 633.56 L869.15 634.94 L870.53 635.93 L871.92 636.54 L873.3 637.5 L875 607 L876.7 639 L878.35 641.92 L880 645 L881.25 645.3 L882.5 646.57 L883.75 646.61 L885 647.54 L886.25 648 L887.5 648.61 L888.75 649.26 L890 650 L891.25 650.38 L892.5 650.88 L893.75 651.9 L895 652.5 L896.25 653.67 L897.5 654.49 L898.75 655.07 L900 656.4 L901.25 656.83 L902.5 658.05 L903.75 659.32 L905 660 L906.25 661.17 L907.5 661.64 L908.75 662.79 L910 663.35 L911.25 664.21 L912.5 665.09 L913.75 666.26 L915 666.7 L916.25 667.29 L917.5 667.48 L918.75 668.08 L920 668.3 L921.65 670.91 L923.3 673.3 L924.55 673.61 L925.8 674.38 L927.05 674.83 L928.3 675 L929.64 675.93 L930.98 677.03 L932.32 677.13 L933.66 678.36 L935 679.2 L936.34 679.63 L937.68 679.71 L939.02 679.9 L940.36 680.63 L941.7 680.8 L943.7 620 L945 681.7 L946.25 682.27 L947.5 682.77 L948.75 683.21 L950 684.2 L951.25 685.24 L952.5 685.41 L953.75 685.88 L955 686.62 L956.25 687.32 L957.5 688.47 L958.75 688.58 L960 689.5 L961.25 689.91 L962.5 690.35 L963.75 691.24 L965 691.62 L966.25 692.31 L967.5 693.21 L968.75 693.95 L970 694.2 L971.25 695.07 L972.5 695.03 L973.75 695.9 L975 697.37 L976.25 696.17 L977.5 697.15 L978.75 698.38 L980 699 L981.25 698.82 L982.5 699.7 L983.75 699.7 L985 699.3 L986.5 693.5 L988 697.5 L989.25 696.9 L990.5 695.9 L991.75 695.33 L993 695.4 L995 698.7 L996.5 698.34 L998 699 L999 692 L1000 705 L1001 691 L1002 706 L1003 697 L1004.4 696.34 L1005.8 697.96 L1007.2 697.15 L1008.6 699.06 L1010 698.5 L1011.25 698.82 L1012.5 697.52 L1013.75 698.5 L1015 698.73 L1016.25 697.49 L1017.5 698.47 L1018.75 697.47 L1020 698.5 L1022 695.5 L1024 699 L1025.5 699.34 L1027 697.41 L1028.5 698.54 L1030 698 L1031 694.5 L1032 700 L1033.33 700.82 L1034.67 700.26 L1036 698.66 L1037.33 699.08 L1038.67 697.96 L1040 698.5 L1041.25 698.18 L1042.5 699.35 L1043.75 699.27 L1045 697.52 L1046.25 698.36 L1047.5 698.96 L1048.75 697.96 L1050 698.7 L1051.3 698.73 L1052.6 698.28 L1053.9 696.89 L1055.2 695.84 L1056.5 695.5 L1058 700 L1060 698 L1061.24 698.77 L1062.49 698.03 L1063.73 697.31 L1064.97 697.51 L1066.21 697.25 L1067.46 698.75 L1068.7 698 L1069.5 654 L1071.7 658 L1073.35 659.76 L1075 661.5 L1076.25 662.36 L1077.5 663.13 L1078.75 663.94 L1080 664 L1081.4 663.83 L1082.8 664.29 L1084.2 665.05 L1085.6 665.11 L1087 665 L1088.7 662.5 L1090.35 663.86 L1092 665.5 L1093.33 665.6 L1094.67 664.97 L1096 664.84 L1097.33 664.63 L1098.67 664.94 L1100 665 L1101.33 665.45 L1102.67 666.55 L1104 667.86 L1105.33 667.65 L1106.67 668.9 L1108 669.6 L1110 667 L1111.33 667.27 L1112.67 666.78 L1114 666.53 L1115.33 666.65 L1116.67 665.59 L1118 666 L1119.5 667.04 L1121 667.22 L1122.5 667.87 L1124 668 L1126 666 L1127.33 666.56 L1128.67 665.85 L1130 666.5 L1131.5 666.23 L1133 667 L1134.33 665.95 L1135.67 665.67 L1137 665 L1138.3 663 L1140 668 L1141.25 668.65 L1142.5 668.74 L1143.75 668.27 L1145 668.5 L1146.25 668.52 L1147.5 668.54 L1148.75 667.92 L1150 668 L1151.5 668 L1152.2 734 L1153.5 668 L1155 667.9 L1156.5 667.2 L1158 666 L1160 666.5 L1161.5 667.77 L1163 668.5 L1164.25 668.86 L1165.5 668.61 L1166.75 668.31 L1168 668 L1169.5 660 L1171 670 L1173 671 L1175 670.5 L1176.3 670.29 L1177.6 670.24 L1178.9 670.19 L1180.2 669.97 L1181.5 670.5 L1182.8 720 L1184.3 669 L1185.72 669.76 L1187.15 669.26 L1188.58 669.18 L1190 670 L1192 672 L1193.5 670.78 L1195 670 L1196.5 667.02 L1198 665 L1199.4 602 L1200.5 660 L1201 667 L1202.33 666.6 L1203.67 666.13 L1205 666 L1206.25 666.61 L1207.5 667.97 L1208.75 668.9 L1210 670 L1211.25 669.32 L1212.5 669.38 L1213.75 668.27 L1215 668 L1217 670 L1218.33 669.55 L1219.67 669.45 L1221 669.05 L1222.33 667.85 L1223.67 666.95 L1225 667 L1226.42 667.04 L1227.83 666.02 L1229.25 665.16 L1230.67 664.55 L1232.08 664.19 L1233.5 664 L1234.75 669.77 L1236 676 L1237 713 L1238 700 L1239.33 698.74 L1240.67 698.07 L1242 698.6 L1243.5 700.39 L1245 700 L1246.33 698.04 L1247.67 693.82 L1249 692 L1250.5 694.96 L1252 698 L1253.5 699.16 L1255 699 L1256.25 698.51 L1257.5 697.05 L1258.75 697.15 L1260 697 L1261.25 696.8 L1262.5 698.04 L1263.75 697.37 L1265 697.16 L1266.25 697.6 L1267.5 696.38 L1268.75 697.85 L1270 697.5 L1271.25 698.17 L1272.5 697.85 L1273.75 697.16 L1275 696.98 L1276.25 696.36 L1277.5 696.51 L1278.75 696.65 L1280 697.4 L1281.25 697.37 L1282.5 698.16 L1283.75 697 L1285 697.64 L1286.25 698.07 L1287.5 698.13 L1288.75 696.87 L1290 698 L1291.25 698.93 L1292.5 698.19 L1293.75 697.57 L1295 697.43 L1296.25 698.42 L1297.5 698.95 L1298.75 697.64 L1300 698 L1301.25 697.78 L1302.5 698.13 L1303.75 697.28 L1305 697.79 L1306.25 698.92 L1307.5 698.12 L1308.75 698.71 L1310 698 L1311.25 697.54 L1312.5 698.94 L1313.75 698.81 L1315 697.65 L1316.25 698.38 L1317.5 698.78 L1318.75 698.6 L1320 698.5 L1321.5 696.76 L1323 693.99 L1324.5 692.6 L1326 698.5 L1327.33 698.62 L1328.67 698.18 L1330 698.5 L1331.25 698.78 L1332.5 697.47 L1333.75 698.43 L1335 697 L1336.25 696.44 L1337.5 695.53 L1338.75 695.06 L1340 694.5 L1341.25 693.45 L1342.5 693.19 L1343.75 691.89 L1345 691.5 L1346.25 691.21 L1347.5 690.6 L1348.75 690.6 L1350 690 L1351.25 688.95 L1352.5 688.64 L1353.75 687.92 L1355 687 L1356.75 686.09 L1358.5 685.6 L1360 680 L1361.4 678.9 L1362.8 678.3 L1364.2 677.72 L1365.6 676.61 L1367 676 L1368.5 674.61 L1370 674 L1371.25 673.2 L1372.5 672.75 L1373.75 671.48 L1375 671 L1376.25 669.73 L1377.5 667.76 L1378.75 665.85 L1380 664.5 L1382 670 L1383.3 668.94 L1384.6 668.42 L1385.9 667.76 L1387.2 666.78 L1388.5 666.3 L1389.75 664.82 L1391 664 L1392 620.5 L1393.5 618.75 L1395 617 L1396.33 616.27 L1397.67 615.89 L1399 615.4 L1400 657 L1401.5 614.6 L1403 657.8 L1404 614.5 L1404.7 660 L1406 655 L1407 611 L1408.6 653 L1410.6 651.5 L1411.83 650.23 L1413.07 649.19 L1414.3 647.8 L1415.65 646.46 L1417 645 L1418.57 643.25 L1420.13 641.68 L1421.7 640.4 L1423.23 639.45 L1424.77 637.57 L1426.3 636.7 L1427.7 591.3 L1429 634.8 L1430.32 633.66 L1431.64 632.78 L1432.96 632.54 L1434.28 631.47 L1435.6 630.6 L1437 583 L1439.3 629.3 L1440.67 628.94 L1442.05 628 L1443.42 627.07 L1444.8 626.5 L1446.7 623.7 L1449 624.6 L1450.4 619.5 L1451.3 622.8 L1452.87 621.14 L1454.43 619.79 L1456 618 L1457.8 615.28 L1459.6 613 L1462 614 L1463.25 610.24 L1464.5 606 L1465.5 598 L1467 604 L1468.33 602.26 L1469.67 600.3 L1471 599 L1472.25 597.87 L1473.5 597.05 L1474.75 595.72 L1476 595 L1477.5 594.32 L1479 593 L1480.5 595 L1482 592 L1483.25 588.34 L1484.5 584 L1486 575 L1487.6 540 L1490 590 L1492 592 L1494 585 L1497.6 539.6 L1498.5 570 L1500 565 L1501 566 L1501.5 586 L1503 577 L1505 577 L1506.25 576.01 L1507.5 575.32 L1508.75 574.15 L1510 573 L1511.38 572.16 L1512.75 570.98 L1514.12 570.74 L1515.5 569.5 L1517.5 563.5 L1519 567 L1520.25 566.84 L1521.5 565.96 L1522.75 565.41 L1524 565 L1525.5 562.16 L1527 560 L1528.33 558.93 L1529.67 557.95 L1531 556.41 L1532.33 555.16 L1533.67 554.26 L1535 553 L1536.25 551.98 L1537.5 550.24 L1538.75 549.08 L1540 548 L1541.25 547.11 L1542.5 545.63 L1543.75 545.25 L1545 544 L1546.5 542.35 L1548 541.27 L1549.5 539.46 L1551 538 L1552.25 537.23 L1553.5 536.62 L1554.75 536.19 L1556 536 L1557.5 535.56 L1559 535.5 L1560.5 533.96 L1562 532 L1563.33 531.24 L1564.67 530.1 L1566 529 L1567.33 528.68 L1568.67 528.8 L1570 528.5 L1571.5 530 L1573.25 528.69 L1575 527 L1576.25 525.89 L1577.5 524.67 L1578.75 523.98 L1580 523 L1581.25 520.78 L1582.5 519 L1583.75 517.75 L1585 517 L1586.5 514.91 L1588 513 L1590 512 L1591.5 508 L1593 506.5 L1594.33 505.33 L1595.67 505.15 L1597 504 L1598 499 L1598.5 480.5 L1599.5 480.5 L1600 500 L1601 501 L1602.5 497.7 L1603.75 497.09 L1605 497 L1606.5 496.48 L1608 495 L1609.25 495.03 L1610.5 493.91 L1611.75 494.73 L1613 494 L1614.4 494.39 L1615.8 494.07 L1617.2 494.52 L1618.6 494.05 L1620 494.1 L1621.33 493.61 L1622.67 493.85 L1624 494.12 L1625.33 494.86 L1626.67 494.91 L1628 494.6 L1630 494 L1631.25 493.48 L1632.5 493.69 L1633.75 493.35 L1635 493.42 L1636.25 493.51 L1637.5 493.52 L1638.75 493.14 L1640 493.5 L1641.25 493.54 L1642.5 492.89 L1643.75 493.52 L1645 492.88 L1646.25 492.67 L1647.5 492.92 L1648.75 492.26 L1650 492.3 L1651.25 491.86 L1652.5 491.55 L1653.75 491.6 L1655 491.7 L1656.25 491.36 L1657.5 491.93 L1658.75 491.45 L1660 491.85 L1661.25 491.31 L1662.5 491.03 L1663.75 491.29 L1665 491.5 L1666.3 491.47 L1667.6 492.19 L1668.9 491.44 L1670.2 491.55 L1671.5 492 L1673 489.5 L1674.4 488.79 L1675.8 488.6 L1677.2 489.15 L1678.6 488.82 L1680 488 L1681.25 487.52 L1682.5 487.16 L1683.75 487.53 L1685 487.4 L1686.25 487.55 L1687.5 487.03 L1688.75 487.45 L1690 487.92 L1691.25 487.05 L1692.5 487.96 L1693.75 487.97 L1695 488.14 L1696.25 487.83 L1697.5 487.86 L1698.75 487.97 L1700 488 L1702 489.6 L1703.75 489.01 L1705.5 489.3" fill="none" stroke="rgba(255,0,0,0.75)" stroke-width="1.6" stroke-linejoin="round"/>
<rect x="224.7" y="497" width="1481.30" height="4" fill="#1f7543"/>
<rect x="224.7" y="497" width="1481.30" height="1" fill="rgba(80,80,60,0.8)"/>
<line x1="224.7" y1="499.3" x2="1706.0" y2="499.3" stroke="rgba(190,40,30,0.5)" stroke-width="1.6"/>
<path d="M224.7 499.3 L225.93 499.3 L227.16 499.3 L228.39 499.3 L229.62 499.3 L230.85 499.3 L232.08 499.3 L233.31 499.3 L234.54 499.3 L235.77 499.3 L237 499.3 L238.24 499.3 L239.47 499.3 L240.7 499.3 L241.93 499.3 L243.16 499.3 L244.39 499.3 L245.62 499.3 L246.85 499.3 L248.08 499.3 L249.31 499.3 L250.54 499.3 L251.77 499.3 L253 499.3 L254.23 499.3 L255.46 499.3 L256.69 499.3 L257.92 499.3 L259.15 499.3 L260.38 499.3 L261.61 499.3 L262.84 499.3 L264.07 499.3 L265.31 499.3 L266.54 499.3 L267.77 499.3 L269 499.3 L270.23 499.3 L271.46 499.3 L272.69 499.3 L273.92 499.3 L275.15 499.3 L276.38 499.3 L277.61 499.3 L278.84 499.3 L280.07 499.3 L281.3 499.3 L282.53 499.3 L283.76 499.3 L284.99 499.3 L286.22 499.3 L287.45 499.3 L288.68 499.3 L289.91 499.3 L291.15 499.3 L292.38 499.3 L293.61 499.3 L294.84 499.3 L296.07 499.3 L297.3 499.3 L298.53 499.3 L299.76 499.3 L300.99 499.3 L302.22 499.3 L303.45 499.3 L304.68 499.3 L305.91 499.3 L307.14 499.3 L308.37 499.3 L309.6 499.3 L310.83 499.3 L312.06 499.3 L313.29 499.3 L314.52 499.3 L315.75 499.3 L316.98 499.3 L318.22 499.3 L319.45 499.3 L320.68 499.3 L321.91 499.3 L323.14 499.3 L324.37 499.3 L325.6 499.3 L326.83 499.3 L328.06 499.3 L329.29 499.3 L330.52 499.3 L331.75 499.3 L332.98 499.3 L334.21 499.3 L335.44 499.3 L336.67 499.3 L337.9 499.3 L339.13 499.3 L340.36 499.3 L341.59 499.3 L342.82 499.3 L344.06 499.3 L345.29 499.3 L346.52 499.3 L347.75 499.3 L348.98 499.3 L350.21 499.3 L351.44 499.3 L352.67 499.3 L353.9 499.3 L355.13 499.3 L356.36 499.3 L357.59 499.3 L358.82 499.3 L360.05 499.3 L361.28 499.3 L362.51 499.3 L363.74 499.3 L364.97 499.3 L366.2 499.3 L367.43 499.3 L368.66 499.3 L369.9 499.3 L371.13 499.3 L372.36 499.3 L373.59 499.3 L374.82 499.3 L376.05 499.3 L377.28 499.3 L378.51 499.3 L379.74 499.3 L380.97 499.3 L382.2 499.3 L383.43 499.3 L384.66 499.3 L385.89 499.3 L387.12 499.3 L388.35 499.3 L389.58 499.3 L390.81 499.3 L392.04 499.3 L393.27 499.3 L394.5 499.3 L395.73 499.3 L396.97 499.3 L398.2 499.3 L399.43 499.3 L400.66 499.3 L401.89 499.3 L403.12 499.3 L404.35 499.3 L405.58 499.3 L406.81 499.3 L408.04 499.3 L409.27 499.3 L410.5 499.3 L411.73 499.3 L412.96 499.3 L414.19 499.3 L415.42 499.3 L416.65 499.3 L417.88 499.3 L419.11 499.3 L420.34 499.3 L421.57 499.3 L422.81 499.3 L424.04 499.3 L425.27 499.3 L426.5 499.3 L427.73 499.3 L428.96 499.3 L430.19 499.3 L431.42 499.3 L432.65 499.3 L433.88 499.3 L435.11 499.3 L436.34 499.3 L437.57 499.3 L438.8 499.3 L440.03 499.3 L441.26 499.3 L442.49 499.3 L443.72 499.3 L444.95 499.3 L446.18 499.3 L447.41 499.3 L448.64 499.3 L449.88 499.3 L451.11 499.3 L452.34 499.3 L453.57 499.3 L454.8 499.3 L456.03 499.3 L457.26 499.3 L458.49 499.3 L459.72 499.3 L460.95 499.3 L462.18 499.3 L463.41 499.3 L464.64 499.3 L465.87 499.3 L467.1 499.3 L468.33 499.3 L469.56 499.3 L470.79 499.3 L472.02 499.3 L473.25 499.3 L474.48 499.3 L475.72 499.3 L476.95 499.3 L478.18 499.3 L479.41 499.3 L480.64 499.3 L481.87 499.3 L483.1 499.3 L484.33 499.3 L485.56 499.3 L486.79 499.3 L488.02 499.3 L489.25 499.3 L490.48 499.3 L491.71 499.3 L492.94 499.3 L494.17 499.3 L495.4 499.3 L496.63 499.3 L497.86 499.3 L499.09 499.3 L500.32 499.3 L501.55 499.3 L502.79 499.3 L504.02 499.3 L505.25 499.3 L506.48 499.3 L507.71 499.3 L508.94 499.3 L510.17 499.3 L511.4 499.3 L512.63 499.3 L513.86 499.3 L515.09 499.3 L516.32 499.3 L517.55 499.3 L518.78 499.3 L520.01 499.3 L521.24 499.3 L522.47 499.3 L523.7 499.3 L524.93 499.3 L526.16 499.3 L527.39 499.3 L528.63 499.3 L529.86 499.3 L531.09 499.3 L532.32 499.3 L533.55 499.3 L534.78 499.3 L536.01 499.3 L537.24 499.3 L538.47 499.3 L539.7 499.3 L540.93 499.3 L542.16 499.3 L543.39 499.3 L544.62 499.3 L545.85 499.3 L547.08 499.3 L548.31 499.3 L549.54 499.3 L550.77 499.3 L552 499.3 L553.23 499.3 L554.47 499.3 L555.7 499.3 L556.93 499.3 L558.16 499.3 L559.39 499.3 L560.62 499.3 L561.85 499.3 L563.08 499.3 L564.31 499.3 L565.54 499.3 L566.77 499.3 L568 499.3 L569.23 499.3 L570.46 499.3 L571.69 499.3 L572.92 499.3 L574.15 499.3 L575.38 499.3 L576.61 499.3 L577.84 499.3 L579.07 499.3 L580.3 499.3 L581.54 499.3 L582.77 499.3 L584 499.3 L585.23 499.3 L586.46 499.3 L587.69 499.3 L588.92 499.3 L590.15 499.3 L591.38 499.3 L592.61 499.3 L593.84 499.3 L595.07 499.3 L596.3 499.3 L597.53 499.3 L598.76 499.3 L599.99 499.3 L601.22 499.3 L602.45 499.3 L603.68 499.3 L604.91 499.3 L606.14 499.3 L607.38 499.3 L608.61 499.3 L609.84 499.3 L611.07 499.3 L612.3 499.3 L613.53 499.3 L614.76 499.3 L615.99 499.3 L617.22 499.3 L618.45 499.3 L619.68 499.3 L620.91 499.3 L622.14 499.3 L623.37 499.3 L624.6 499.3 L625.83 499.3 L627.06 499.3 L628.29 499.3 L629.52 499.3 L630.75 499.3 L631.98 499.3 L633.21 499.3 L634.45 499.3 L635.68 499.3 L636.91 499.3 L638.14 499.3 L639.37 499.3 L640.6 499.3 L641.83 499.3 L643.06 499.3 L644.29 499.3 L645.52 499.3 L646.75 499.3 L647.98 499.3 L649.21 499.3 L650.44 499.3 L651.67 499.3 L652.9 499.3 L654.13 499.3 L655.36 499.3 L656.59 499.3 L657.82 499.3 L659.05 499.3 L660.29 499.3 L661.52 499.3 L662.75 499.3 L663.98 499.3 L665.21 499.3 L666.44 499.3 L667.67 499.3 L668.9 499.3 L670.13 499.3 L671.36 499.3 L672.59 499.3 L673.82 499.3 L675.05 499.3 L676.28 499.3 L677.51 499.3 L678.74 499.3 L679.97 499.3 L681.2 499.3 L682.43 499.3 L683.66 499.3 L684.89 499.3 L686.12 499.3 L687.36 499.3 L688.59 499.3 L689.82 499.3 L691.05 499.3 L692.28 499.3 L693.51 499.3 L694.74 499.3 L695.97 499.3 L697.2 499.3 L698.43 499.3 L699.66 499.3 L700.89 499.3 L702.12 499.3 L703.35 499.3 L704.58 499.3 L705.81 499.3 L707.04 499.3 L708.27 499.3 L709.5 499.3 L710.73 499.3 L711.96 499.3 L713.2 499.3 L714.43 499.3 L715.66 499.3 L716.89 499.3 L718.12 499.3 L719.35 499.3 L720.58 499.3 L721.81 499.3 L723.04 499.3 L724.27 499.3 L725.5 499.3 L726.73 499.3 L727.96 499.3 L729.19 499.3 L730.42 499.3 L731.65 499.3 L732.88 499.3 L734.11 499.3 L735.34 499.3 L736.57 499.3 L737.8 499.3 L739.03 499.3 L740.27 499.3 L741.5 499.3 L742.73 499.3 L743.96 499.3 L745.19 499.3 L746.42 499.3 L747.65 499.3 L748.88 499.3 L750.11 499.3 L751.34 499.3 L752.57 499.3 L753.8 499.3 L755.03 499.3 L756.26 499.3 L757.49 499.3 L758.72 499.3 L759.95 499.3 L761.18 499.3 L762.41 499.3 L763.64 499.3 L764.87 499.3 L766.11 499.3 L767.34 499.3 L768.57 499.3 L769.8 499.3 L771.03 499.3 L772.26 499.3 L773.49 499.3 L774.72 499.3 L775.95 499.3 L777.18 499.3 L778.41 499.3 L779.64 499.3 L780.87 499.3 L782.1 499.3 L783.33 499.3 L784.56 499.3 L785.79 499.3 L787.02 499.3 L788.25 499.3 L789.48 499.3 L790.71 499.3 L791.95 499.3 L793.18 499.3 L794.41 499.3 L795.64 499.3 L796.87 499.3 L798.1 499.3 L799.33 499.3 L800.56 499.3 L801.79 499.3 L803.02 499.3 L804.25 499.3 L805.48 499.3 L806.71 499.3 L807.94 499.3 L809.17 499.3 L810.4 499.3 L811.63 499.3 L812.86 499.3 L814.09 499.3 L815.32 499.3 L816.55 499.3 L817.78 499.3 L819.02 499.3 L820.25 499.3 L821.48 499.3 L822.71 499.3 L823.94 499.3 L825.17 499.3 L826.4 499.3 L827.63 499.3 L828.86 499.3 L830.09 499.3 L831.32 499.3 L832.55 499.3 L833.78 499.3 L835.01 499.3 L836.24 499.3 L837.47 499.3 L838.7 499.3 L839.93 499.3 L841.16 499.3 L842.39 499.3 L843.62 499.3 L844.86 499.3 L846.09 499.3 L847.32 499.3 L848.55 499.3 L849.78 499.3 L851.01 499.3 L852.24 499.3 L853.47 499.3 L854.7 499.3 L855.93 499.3 L857.16 499.3 L858.39 499.3 L859.62 499.3 L860.85 499.3 L862.08 499.3 L863.31 499.3 L864.54 499.3 L865.77 499.3 L867 499.3 L868.23 499.3 L869.46 499.3 L870.69 499.3 L871.93 499.3 L873.16 499.3 L874.39 499.3 L875.62 499.3 L876.85 499.3 L878.08 499.3 L879.31 499.3 L880.54 499.3 L881.77 499.3 L883 499.3 L884.23 499.3 L885.46 499.3 L886.69 499.3 L887.92 499.3 L889.15 499.3 L890.38 499.3 L891.61 499.3 L892.84 499.3 L894.07 499.3 L895.3 499.3 L896.53 499.3 L897.77 499.3 L899 499.3 L900.23 499.3 L901.46 499.3 L902.69 499.3 L903.92 499.3 L905.15 499.3 L906.38 499.3 L907.61 499.3 L908.84 499.3 L910.07 499.3 L911.3 499.3 L912.53 499.3 L913.76 499.3 L914.99 499.3 L916.22 499.3 L917.45 499.3 L918.68 499.3 L919.91 499.3 L921.14 499.3 L922.37 499.3 L923.6 499.3 L924.84 499.3 L926.07 499.3 L927.3 499.3 L928.53 499.3 L929.76 499.3 L930.99 499.3 L932.22 499.3 L933.45 499.3 L934.68 499.3 L935.91 499.3 L937.14 499.3 L938.37 499.3 L939.6 499.3 L940.83 499.3 L942.06 499.3 L943.29 499.3 L944.52 499.3 L945.75 499.3 L946.98 499.3 L948.21 499.3 L949.44 499.3 L950.68 499.3 L951.91 499.3 L953.14 499.3 L954.37 499.3 L955.6 499.3 L956.83 499.3 L958.06 499.3 L959.29 499.3 L960.52 499.3 L961.75 499.3 L962.98 499.3 L964.21 499.3 L965.44 499.3 L966.67 499.3 L967.9 499.3 L969.13 499.3 L970.36 499.3 L971.59 499.3 L972.82 499.3 L974.05 499.3 L975.28 499.3 L976.52 499.3 L977.75 499.3 L978.98 499.3 L980.21 499.3 L981.44 499.3 L982.67 499.3 L983.9 499.3 L985.13 499.3 L986.36 499.3 L987.59 499.3 L988.82 499.3 L990.05 499.3 L991.28 499.3 L992.51 499.3 L993.74 499.3 L994.97 499.3 L996.2 499.3 L997.43 499.3 L998.66 499.3 L999.89 499.3 L1001.12 499.3 L1002.35 499.3 L1003.59 499.3 L1004.82 499.3 L1006.05 499.3 L1007.28 499.3 L1008.51 499.3 L1009.74 499.3 L1010.97 499.3 L1012.2 499.3 L1013.43 499.3 L1014.66 499.3 L1015.89 499.3 L1017.12 499.3 L1018.35 499.3 L1019.58 499.3 L1020.81 499.3 L1022.04 499.3 L1023.27 499.3 L1024.5 499.3 L1025.73 499.3 L1026.96 499.3 L1028.19 499.3 L1029.43 499.3 L1030.66 499.3 L1031.89 499.3 L1033.12 499.3 L1034.35 499.3 L1035.58 499.3 L1036.81 499.3 L1038.04 499.3 L1039.27 499.3 L1040.5 499.3 L1041.73 499.3 L1042.96 499.3 L1044.19 499.3 L1045.42 499.3 L1046.65 499.3 L1047.88 499.3 L1049.11 499.3 L1050.34 499.3 L1051.57 499.3 L1052.8 499.3 L1054.03 499.3 L1055.26 499.3 L1056.5 499.3 L1057.73 499.3 L1058.96 499.3 L1060.19 499.3 L1061.42 499.3 L1062.65 499.3 L1063.88 499.3 L1065.11 499.3 L1066.34 499.3 L1067.57 499.3 L1068.8 499.3 L1069.3 433.5 L1070.72 433.31 L1072.15 433.28 L1073.58 433.38 L1075 433 L1077 434 L1078.3 433.7 L1079.6 433.67 L1080.9 433.46 L1082.2 433.45 L1083.5 433.31 L1084.8 433.34 L1086.1 433.52 L1087.4 433.78 L1088.7 433.51 L1090 433.3 L1091.25 433.18 L1092.5 433.16 L1093.75 433.32 L1095 433.03 L1096.25 432.81 L1097.5 433.31 L1098.75 433.12 L1100 433 L1102 434 L1103.29 433.68 L1104.57 433.6 L1105.86 433.57 L1107.14 434.12 L1108.43 433.48 L1109.71 433.79 L1111 433.98 L1112.29 433.27 L1113.57 433.47 L1114.86 433.48 L1116.14 433.74 L1117.43 433.18 L1118.71 433.18 L1120 433.3 L1121.25 433.05 L1122.5 432.83 L1123.75 433.2 L1125 433 L1127 434 L1128.3 434.15 L1129.6 433.82 L1130.9 433.47 L1132.2 433.87 L1133.5 433.82 L1134.8 433.69 L1136.1 433.39 L1137.4 433.67 L1138.7 433.46 L1140 433.3 L1141.31 433.36 L1142.62 433.33 L1143.94 433.11 L1145.25 433.27 L1146.56 433.51 L1147.88 433.43 L1149.19 433.19 L1150.5 433.3 L1151.3 499.3 L1153.3 433.5 L1154.64 433.68 L1155.98 433.66 L1157.32 433.06 L1158.66 433.1 L1160 433.3 L1162 434 L1163.29 433.76 L1164.57 433.56 L1165.86 434.03 L1167.14 433.9 L1168.43 433.78 L1169.71 434.05 L1171 433.55 L1172.29 433.39 L1173.57 433.28 L1174.86 433.39 L1176.14 433.69 L1177.43 433.47 L1178.71 433.04 L1180 433.3 L1181.5 433.3 L1182.3 499.3 L1184.2 433.5 L1185.65 433.38 L1187.1 433.03 L1188.55 433.36 L1190 433.2 L1192 434 L1193.29 433.69 L1194.57 433.68 L1195.86 433.95 L1197.14 434.03 L1198.43 433.83 L1199.71 433.56 L1201 433.75 L1202.29 433.44 L1203.57 433.2 L1204.86 433.34 L1206.14 433.58 L1207.43 433.49 L1208.71 433.13 L1210 433.3 L1212 434 L1213.3 434.17 L1214.6 434.09 L1215.9 433.64 L1217.2 434.04 L1218.5 433.48 L1219.8 433.28 L1221.1 433.52 L1222.4 433.7 L1223.7 433.44 L1225 433.3 L1226.34 433.29 L1227.69 433.21 L1229.03 433.02 L1230.37 432.99 L1231.71 433.02 L1233.06 433.08 L1234.4 433 L1236.3 445 L1237.6 499.3 L1238.83 499.3 L1240.07 499.3 L1241.3 499.3 L1242.53 499.3 L1243.76 499.3 L1245 499.3 L1246.23 499.3 L1247.46 499.3 L1248.69 499.3 L1249.93 499.3 L1251.16 499.3 L1252.39 499.3 L1253.62 499.3 L1254.86 499.3 L1256.09 499.3 L1257.32 499.3 L1258.55 499.3 L1259.79 499.3 L1261.02 499.3 L1262.25 499.3 L1263.49 499.3 L1264.72 499.3 L1265.95 499.3 L1267.18 499.3 L1268.42 499.3 L1269.65 499.3 L1270.88 499.3 L1272.11 499.3 L1273.35 499.3 L1274.58 499.3 L1275.81 499.3 L1277.04 499.3 L1278.28 499.3 L1279.51 499.3 L1280.74 499.3 L1281.97 499.3 L1283.21 499.3 L1284.44 499.3 L1285.67 499.3 L1286.91 499.3 L1288.14 499.3 L1289.37 499.3 L1290.6 499.3 L1291.84 499.3 L1293.07 499.3 L1294.3 499.3 L1295.53 499.3 L1296.77 499.3 L1298 499.3 L1299.23 499.3 L1300.46 499.3 L1301.7 499.3 L1302.93 499.3 L1304.16 499.3 L1305.39 499.3 L1306.63 499.3 L1307.86 499.3 L1309.09 499.3 L1310.33 499.3 L1311.56 499.3 L1312.79 499.3 L1314.02 499.3 L1315.26 499.3 L1316.49 499.3 L1317.72 499.3 L1318.95 499.3 L1320.19 499.3 L1321.42 499.3 L1322.65 499.3 L1323.88 499.3 L1325.12 499.3 L1326.35 499.3 L1327.58 499.3 L1328.81 499.3 L1330.05 499.3 L1331.28 499.3 L1332.51 499.3 L1333.75 499.3 L1334.98 499.3 L1336.21 499.3 L1337.44 499.3 L1338.68 499.3 L1339.91 499.3 L1341.14 499.3 L1342.37 499.3 L1343.61 499.3 L1344.84 499.3 L1346.07 499.3 L1347.3 499.3 L1348.54 499.3 L1349.77 499.3 L1351 499.3 L1352.23 499.3 L1353.47 499.3 L1354.7 499.3 L1355.93 499.3 L1357.17 499.3 L1358.4 499.3 L1359.63 499.3 L1360.86 499.3 L1362.1 499.3 L1363.33 499.3 L1364.56 499.3 L1365.79 499.3 L1367.03 499.3 L1368.26 499.3 L1369.49 499.3 L1370.72 499.3 L1371.96 499.3 L1373.19 499.3 L1374.42 499.3 L1375.65 499.3 L1376.89 499.3 L1378.12 499.3 L1379.35 499.3 L1380.59 499.3 L1381.82 499.3 L1383.05 499.3 L1384.28 499.3 L1385.52 499.3 L1386.75 499.3 L1387.98 499.3 L1389.21 499.3 L1390.45 499.3 L1391.68 499.3 L1392.91 499.3 L1394.14 499.3 L1395.38 499.3 L1396.61 499.3 L1397.84 499.3 L1399.07 499.3 L1400.31 499.3 L1401.54 499.3 L1402.77 499.3 L1404.01 499.3 L1405.24 499.3 L1406.47 499.3 L1407.7 499.3 L1408.94 499.3 L1410.17 499.3 L1411.4 499.3 L1412.63 499.3 L1413.87 499.3 L1415.1 499.3 L1416.33 499.3 L1417.56 499.3 L1418.8 499.3 L1420.03 499.3 L1421.26 499.3 L1422.49 499.3 L1423.73 499.3 L1424.96 499.3 L1426.19 499.3 L1427.43 499.3 L1428.66 499.3 L1429.89 499.3 L1431.12 499.3 L1432.36 499.3 L1433.59 499.3 L1434.82 499.3 L1436.05 499.3 L1437.29 499.3 L1438.52 499.3 L1439.75 499.3 L1440.98 499.3 L1442.22 499.3 L1443.45 499.3 L1444.68 499.3 L1445.91 499.3 L1447.15 499.3 L1448.38 499.3 L1449.61 499.3 L1450.85 499.3 L1452.08 499.3 L1453.31 499.3 L1454.54 499.3 L1455.78 499.3 L1457.01 499.3 L1458.24 499.3 L1459.47 499.3 L1460.71 499.3 L1461.94 499.3 L1463.17 499.3 L1464.4 499.3 L1465.64 499.3 L1466.87 499.3 L1468.1 499.3 L1469.33 499.3 L1470.57 499.3 L1471.8 499.3 L1473.03 499.3 L1474.27 499.3 L1475.5 499.3 L1476.73 499.3 L1477.96 499.3 L1479.2 499.3 L1480.43 499.3 L1481.66 499.3 L1482.89 499.3 L1484.13 499.3 L1485.36 499.3 L1486.59 499.3 L1487.82 499.3 L1489.06 499.3 L1490.29 499.3 L1491.52 499.3 L1492.75 499.3 L1493.99 499.3 L1495.22 499.3 L1496.45 499.3 L1497.69 499.3 L1498.92 499.3 L1500.15 499.3 L1501.38 499.3 L1502.62 499.3 L1503.85 499.3 L1505.08 499.3 L1506.31 499.3 L1507.55 499.3 L1508.78 499.3 L1510.01 499.3 L1511.24 499.3 L1512.48 499.3 L1513.71 499.3 L1514.94 499.3 L1516.17 499.3 L1517.41 499.3 L1518.64 499.3 L1519.87 499.3 L1521.11 499.3 L1522.34 499.3 L1523.57 499.3 L1524.8 499.3 L1526.04 499.3 L1527.27 499.3 L1528.5 499.3 L1529.73 499.3 L1530.97 499.3 L1532.2 499.3 L1533.43 499.3 L1534.66 499.3 L1535.9 499.3 L1537.13 499.3 L1538.36 499.3 L1539.59 499.3 L1540.83 499.3 L1542.06 499.3 L1543.29 499.3 L1544.53 499.3 L1545.76 499.3 L1546.99 499.3 L1548.22 499.3 L1549.46 499.3 L1550.69 499.3 L1551.92 499.3 L1553.15 499.3 L1554.39 499.3 L1555.62 499.3 L1556.85 499.3 L1558.08 499.3 L1559.32 499.3 L1560.55 499.3 L1561.78 499.3 L1563.01 499.3 L1564.25 499.3 L1565.48 499.3 L1566.71 499.3 L1567.95 499.3 L1569.18 499.3 L1570.41 499.3 L1571.64 499.3 L1572.88 499.3 L1574.11 499.3 L1575.34 499.3 L1576.57 499.3 L1577.81 499.3 L1579.04 499.3 L1580.27 499.3 L1581.5 499.3 L1582.74 499.3 L1583.97 499.3 L1585.2 499.3 L1586.43 499.3 L1587.67 499.3 L1588.9 499.3 L1590.13 499.3 L1591.37 499.3 L1592.6 499.3 L1593.83 499.3 L1595.06 499.3 L1596.3 499.3 L1597.53 499.3 L1598.76 499.3 L1599.99 499.3 L1601.23 499.3 L1602.46 499.3 L1603.69 499.3 L1604.92 499.3 L1606.16 499.3 L1607.39 499.3 L1608.62 499.3 L1609.85 499.3 L1611.09 499.3 L1612.32 499.3 L1613.55 499.3 L1614.79 499.3 L1616.02 499.3 L1617.25 499.3 L1618.48 499.3 L1619.72 499.3 L1620.95 499.3 L1622.18 499.3 L1623.41 499.3 L1624.65 499.3 L1625.88 499.3 L1627.11 499.3 L1628.34 499.3 L1629.58 499.3 L1630.81 499.3 L1632.04 499.3 L1633.27 499.3 L1634.51 499.3 L1635.74 499.3 L1636.97 499.3 L1638.21 499.3 L1639.44 499.3 L1640.67 499.3 L1641.9 499.3 L1643.14 499.3 L1644.37 499.3 L1645.6 499.3 L1646.83 499.3 L1648.07 499.3 L1649.3 499.3 L1650.53 499.3 L1651.76 499.3 L1653 499.3 L1654.23 499.3 L1655.46 499.3 L1656.69 499.3 L1657.93 499.3 L1659.16 499.3 L1660.39 499.3 L1661.63 499.3 L1662.86 499.3 L1664.09 499.3 L1665.32 499.3 L1666.56 499.3 L1667.79 499.3 L1669.02 499.3 L1670.25 499.3 L1671.49 499.3 L1672.72 499.3 L1673.95 499.3 L1675.18 499.3 L1676.42 499.3 L1677.65 499.3 L1678.88 499.3 L1680.11 499.3 L1681.35 499.3 L1682.58 499.3 L1683.81 499.3 L1685.05 499.3 L1686.28 499.3 L1687.51 499.3 L1688.74 499.3 L1689.98 499.3 L1691.21 499.3 L1692.44 499.3 L1693.67 499.3 L1694.91 499.3 L1696.14 499.3 L1697.37 499.3 L1698.6 499.3 L1699.84 499.3 L1701.07 499.3 L1702.3 499.3 L1703.53 499.3 L1704.77 499.3 L1706 499.3" fill="none" stroke="rgba(0,0,255,0.78)" stroke-width="2.0" stroke-linejoin="round"/>
<rect x="224.7" y="500.3" width="1481.30" height="0.7" fill="#1a8048"/>
<g font-size="18" fill="#999" text-anchor="end">
<text x="208.5" y="220.3">15</text>
<text x="208.5" y="315.13">10</text>
<text x="208.5" y="409.97">5</text>
<text x="208.5" y="504.8">0</text>
<text x="208.5" y="599.63">-5</text>
<text x="208.5" y="694.47">-10</text>
<text x="208.5" y="789.3">-15</text>
</g>
<g font-size="18" fill="#999">
<text x="1721" y="220.3">100</text>
<text x="1721" y="277.77">90</text>
<text x="1721" y="335.25">80</text>
<text x="1721" y="392.72">70</text>
<text x="1721" y="450.2">60</text>
<text x="1721" y="507.67">50</text>
<text x="1721" y="565.15">40</text>
<text x="1721" y="622.62">30</text>
<text x="1721" y="680.1">20</text>
<text x="1721" y="737.57">10</text>
<text x="1721" y="789.3">1</text>
</g>
<text transform="translate(162.3,499.5) rotate(-90)" font-size="18" fill="#999" text-anchor="middle">Leistung [kW]</text>
<text transform="translate(1771.5,499.5) rotate(90)" font-size="18" fill="#999" text-anchor="middle">SoC [%]</text>
<g font-size="18" fill="#999" text-anchor="end">
<text transform="translate(224.1,798) rotate(-50)" dy="6.24">06.05.20 - 01:09</text>
<text transform="translate(284.4,798) rotate(-50)" dy="6.24">06.05.20 - 01:58</text>
<text transform="translate(344.69,798) rotate(-50)" dy="6.24">06.05.20 - 02:47</text>
<text transform="translate(404.99,798) rotate(-50)" dy="6.24">06.05.20 - 03:36</text>
<text transform="translate(465.28,798) rotate(-50)" dy="6.24">06.05.20 - 04:25</text>
<text transform="translate(525.58,798) rotate(-50)" dy="6.24">06.05.20 - 05:14</text>
<text transform="translate(585.88,798) rotate(-50)" dy="6.24">06.05.20 - 06:03</text>
<text transform="translate(646.17,798) rotate(-50)" dy="6.24">06.05.20 - 06:52</text>
<text transform="translate(706.47,798) rotate(-50)" dy="6.24">06.05.20 - 07:41</text>
<text transform="translate(766.76,798) rotate(-50)" dy="6.24">06.05.20 - 08:30</text>
<text transform="translate(827.06,798) rotate(-50)" dy="6.24">06.05.20 - 09:19</text>
<text transform="translate(887.36,798) rotate(-50)" dy="6.24">06.05.20 - 10:08</text>
<text transform="translate(947.65,798) rotate(-50)" dy="6.24">06.05.20 - 10:57</text>
<text transform="translate(1007.95,798) rotate(-50)" dy="6.24">06.05.20 - 11:46</text>
<text transform="translate(1068.24,798) rotate(-50)" dy="6.24">06.05.20 - 12:35</text>
<text transform="translate(1128.54,798) rotate(-50)" dy="6.24">06.05.20 - 13:24</text>
<text transform="translate(1188.84,798) rotate(-50)" dy="6.24">06.05.20 - 14:13</text>
<text transform="translate(1249.13,798) rotate(-50)" dy="6.24">06.05.20 - 15:02</text>
<text transform="translate(1309.43,798) rotate(-50)" dy="6.24">06.05.20 - 15:51</text>
<text transform="translate(1369.72,798) rotate(-50)" dy="6.24">06.05.20 - 16:40</text>
<text transform="translate(1430.02,798) rotate(-50)" dy="6.24">06.05.20 - 17:29</text>
<text transform="translate(1490.32,798) rotate(-50)" dy="6.24">06.05.20 - 18:18</text>
<text transform="translate(1550.61,798) rotate(-50)" dy="6.24">06.05.20 - 19:07</text>
<text transform="translate(1610.91,798) rotate(-50)" dy="6.24">06.05.20 - 19:56</text>
<text transform="translate(1671.2,798) rotate(-50)" dy="6.24">06.05.20 - 20:45</text>
</g>
<rect x="599.5" y="921.2" width="60" height="17.4" fill="rgba(0,0,255,0.7)" stroke="rgba(0,0,255,0.8)" stroke-width="2"/>
<rect x="713.5" y="921.2" width="60" height="17.4" fill="rgba(255,0,0,0.3)" stroke="rgba(255,0,0,0.7)" stroke-width="2"/>
<rect x="848.5" y="921.2" width="60" height="17.4" fill="rgba(0,255,0,0.3)" stroke="#008000" stroke-width="1.8"/>
<rect x="956.5" y="921.2" width="60" height="17.4" fill="rgba(0,0,0,0.3)" stroke="#a3a3a3" stroke-width="3"/>
<rect x="1162.5" y="921.2" width="60" height="17.4" fill="#e6e6fa" stroke="#e6e6ef" stroke-width="3"/>
<g font-size="18" fill="#999">
<text x="668" y="935.3">Lp1</text>
<text x="782.5" y="935.3">Bezug</text>
<text x="917" y="935.3">PV</text>
<text x="1025.5" y="935.3">Hausverbrauch</text>
<text x="1231" y="935.3">LP Gesamt</text>
</g>
</svg>
</body></html>
